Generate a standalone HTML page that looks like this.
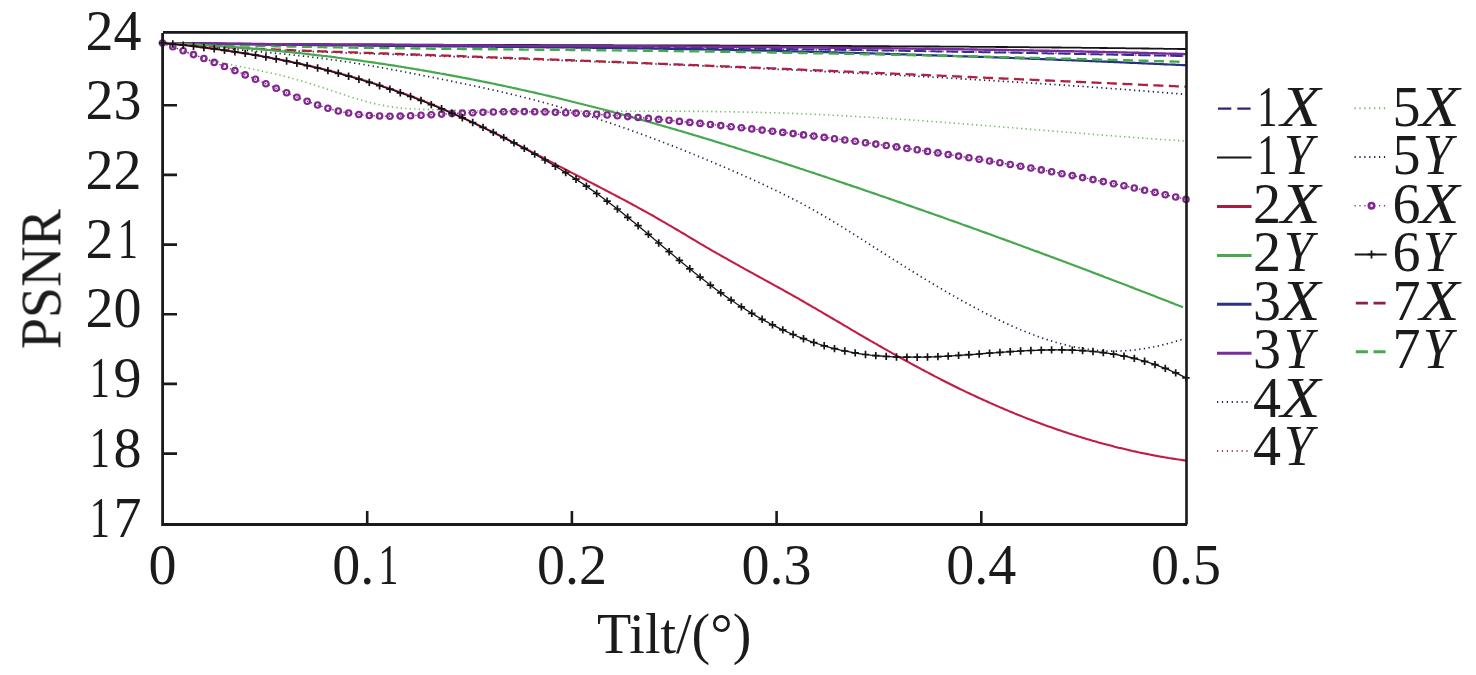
<!DOCTYPE html>
<html><head><meta charset="utf-8"><style>
html,body{margin:0;padding:0;background:#fff;}
svg{display:block;}
text{font-family:"Liberation Serif",serif;font-size:56px;fill:#1a1a1a;}
</style></head><body>
<svg width="1476" height="675" viewBox="0 0 1476 675">
<rect width="1476" height="675" fill="#fff"/>
<g fill="none" stroke-linecap="butt" stroke-linejoin="round">
<path d="M162.5,43.0 L164.5,43.9 L166.5,44.8 L168.5,45.7 L170.5,46.6 L172.5,47.4 L174.5,48.3 L176.5,49.1 L178.5,49.8 L180.5,50.6 L182.5,51.3 L184.5,52.0 L186.5,52.7 L188.5,53.4 L190.5,54.1 L192.5,54.7 L194.5,55.4 L196.5,56.0 L198.5,56.6 L200.5,57.1 L202.5,57.7 L204.5,58.3 L206.5,58.8 L208.5,59.3 L210.5,59.9 L212.5,60.4 L214.5,60.9 L216.5,61.3 L218.5,61.8 L220.5,62.3 L222.5,62.8 L224.5,63.2 L226.5,63.7 L228.5,64.1 L230.5,64.5 L232.5,65.0 L234.5,65.4 L236.5,65.8 L238.5,66.2 L240.5,66.6 L242.5,67.1 L244.5,67.5 L246.5,67.9 L248.5,68.3 L250.5,68.7 L252.5,69.1 L254.5,69.5 L256.5,69.9 L258.5,70.4 L260.5,70.8 L262.5,71.2 L264.5,71.6 L266.5,72.1 L268.5,72.5 L270.5,73.0 L272.5,73.4 L274.5,73.9 L276.5,74.3 L278.5,74.8 L280.5,75.3 L282.5,75.8 L284.5,76.3 L286.5,76.8 L288.5,77.4 L290.5,77.9 L292.5,78.5 L294.5,79.0 L296.5,79.6 L298.5,80.2 L300.5,80.7 L302.5,81.3 L304.5,81.9 L306.5,82.5 L308.5,83.2 L310.5,83.8 L312.5,84.4 L314.5,85.0 L316.5,85.7 L318.5,86.3 L320.5,87.0 L322.5,87.6 L324.5,88.3 L326.5,88.9 L328.5,89.6 L330.5,90.2 L332.5,90.9 L334.5,91.5 L336.5,92.2 L338.5,92.9 L340.5,93.5 L342.5,94.2 L344.5,94.9 L346.5,95.5 L348.5,96.2 L350.5,96.8 L352.5,97.5 L354.5,98.1 L356.5,98.7 L358.5,99.3 L360.5,99.9 L362.5,100.5 L364.5,101.1 L366.5,101.6 L368.5,102.2 L370.5,102.7 L372.5,103.2 L374.5,103.6 L376.5,104.1 L378.5,104.5 L380.5,104.9 L382.5,105.3 L384.5,105.7 L386.5,106.1 L388.5,106.4 L390.5,106.7 L392.5,107.0 L394.5,107.3 L396.5,107.5 L398.5,107.8 L400.5,108.0 L402.5,108.2 L404.5,108.4 L406.5,108.5 L408.5,108.7 L410.5,108.8 L412.5,108.9 L414.5,109.0 L416.5,109.1 L418.5,109.2 L420.5,109.3 L422.5,109.4 L424.5,109.4 L426.5,109.5 L428.5,109.6 L430.5,109.6 L432.5,109.7 L434.5,109.7 L436.5,109.8 L438.5,109.8 L440.5,109.9 L442.5,110.0 L444.5,110.0 L446.5,110.1 L448.5,110.1 L450.5,110.2 L452.5,110.2 L454.5,110.2 L456.5,110.3 L458.5,110.3 L460.5,110.4 L462.5,110.4 L464.5,110.4 L466.5,110.5 L468.5,110.5 L470.5,110.6 L472.5,110.6 L474.5,110.6 L476.5,110.7 L478.5,110.7 L480.5,110.7 L482.5,110.7 L484.5,110.8 L486.5,110.8 L488.5,110.8 L490.5,110.8 L492.5,110.9 L494.5,110.9 L496.5,110.9 L498.5,110.9 L500.5,111.0 L502.5,111.0 L504.5,111.0 L506.5,111.0 L508.5,111.0 L510.5,111.0 L512.5,111.1 L514.5,111.1 L516.5,111.1 L518.5,111.1 L520.5,111.1 L522.5,111.1 L524.5,111.1 L526.5,111.1 L528.5,111.2 L530.5,111.2 L532.5,111.2 L534.5,111.2 L536.5,111.2 L538.5,111.2 L540.5,111.2 L542.5,111.2 L544.5,111.2 L546.5,111.2 L548.5,111.2 L550.5,111.2 L552.5,111.2 L554.5,111.2 L556.5,111.2 L558.5,111.2 L560.5,111.2 L562.5,111.2 L564.5,111.2 L566.5,111.2 L568.5,111.2 L570.5,111.2 L572.5,111.2 L574.5,111.2 L576.5,111.2 L578.5,111.2 L580.5,111.2 L582.5,111.2 L584.5,111.2 L586.5,111.2 L588.5,111.2 L590.5,111.2 L592.5,111.2 L594.5,111.2 L596.5,111.2 L598.5,111.2 L600.5,111.2 L602.5,111.2 L604.5,111.2 L606.5,111.2 L608.5,111.2 L610.5,111.2 L612.5,111.2 L614.5,111.2 L616.5,111.2 L618.5,111.2 L620.5,111.2 L622.5,111.2 L624.5,111.2 L626.5,111.2 L628.5,111.2 L630.5,111.2 L632.5,111.2 L634.5,111.2 L636.5,111.2 L638.5,111.2 L640.5,111.2 L642.5,111.2 L644.5,111.2 L646.5,111.2 L648.5,111.2 L650.5,111.2 L652.5,111.2 L654.5,111.2 L656.5,111.2 L658.5,111.2 L660.5,111.2 L662.5,111.2 L664.5,111.2 L666.5,111.2 L668.5,111.2 L670.5,111.3 L672.5,111.3 L674.5,111.3 L676.5,111.3 L678.5,111.3 L680.5,111.3 L682.5,111.3 L684.5,111.3 L686.5,111.3 L688.5,111.3 L690.5,111.4 L692.5,111.4 L694.5,111.4 L696.5,111.4 L698.5,111.4 L700.5,111.4 L702.5,111.5 L704.5,111.5 L706.5,111.5 L708.5,111.5 L710.5,111.5 L712.5,111.6 L714.5,111.6 L716.5,111.6 L718.5,111.6 L720.5,111.7 L722.5,111.7 L724.5,111.7 L726.5,111.8 L728.5,111.8 L730.5,111.8 L732.5,111.8 L734.5,111.9 L736.5,111.9 L738.5,112.0 L740.5,112.0 L742.5,112.0 L744.5,112.1 L746.5,112.1 L748.5,112.2 L750.5,112.2 L752.5,112.2 L754.5,112.3 L756.5,112.3 L758.5,112.4 L760.5,112.4 L762.5,112.5 L764.5,112.5 L766.5,112.6 L768.5,112.7 L770.5,112.7 L772.5,112.8 L774.5,112.8 L776.5,112.9 L778.5,113.0 L780.5,113.0 L782.5,113.1 L784.5,113.1 L786.5,113.2 L788.5,113.3 L790.5,113.4 L792.5,113.4 L794.5,113.5 L796.5,113.6 L798.5,113.7 L800.5,113.7 L802.5,113.8 L804.5,113.9 L806.5,114.0 L808.5,114.1 L810.5,114.2 L812.5,114.2 L814.5,114.3 L816.5,114.4 L818.5,114.5 L820.5,114.6 L822.5,114.7 L824.5,114.8 L826.5,114.9 L828.5,115.0 L830.5,115.1 L832.5,115.2 L834.5,115.3 L836.5,115.4 L838.5,115.5 L840.5,115.6 L842.5,115.7 L844.5,115.8 L846.5,115.9 L848.5,116.0 L850.5,116.1 L852.5,116.3 L854.5,116.4 L856.5,116.5 L858.5,116.6 L860.5,116.7 L862.5,116.8 L864.5,117.0 L866.5,117.1 L868.5,117.2 L870.5,117.3 L872.5,117.4 L874.5,117.6 L876.5,117.7 L878.5,117.8 L880.5,117.9 L882.5,118.1 L884.5,118.2 L886.5,118.3 L888.5,118.5 L890.5,118.6 L892.5,118.7 L894.5,118.9 L896.5,119.0 L898.5,119.1 L900.5,119.3 L902.5,119.4 L904.5,119.5 L906.5,119.7 L908.5,119.8 L910.5,119.9 L912.5,120.1 L914.5,120.2 L916.5,120.4 L918.5,120.5 L920.5,120.7 L922.5,120.8 L924.5,120.9 L926.5,121.1 L928.5,121.2 L930.5,121.4 L932.5,121.5 L934.5,121.7 L936.5,121.8 L938.5,122.0 L940.5,122.1 L942.5,122.3 L944.5,122.4 L946.5,122.6 L948.5,122.7 L950.5,122.9 L952.5,123.0 L954.5,123.2 L956.5,123.3 L958.5,123.5 L960.5,123.6 L962.5,123.8 L964.5,124.0 L966.5,124.1 L968.5,124.3 L970.5,124.4 L972.5,124.6 L974.5,124.7 L976.5,124.9 L978.5,125.1 L980.5,125.2 L982.5,125.4 L984.5,125.5 L986.5,125.7 L988.5,125.9 L990.5,126.0 L992.5,126.2 L994.5,126.3 L996.5,126.5 L998.5,126.7 L1000.5,126.8 L1002.5,127.0 L1004.5,127.1 L1006.5,127.3 L1008.5,127.5 L1010.5,127.6 L1012.5,127.8 L1014.5,128.0 L1016.5,128.1 L1018.5,128.3 L1020.5,128.4 L1022.5,128.6 L1024.5,128.8 L1026.5,128.9 L1028.5,129.1 L1030.5,129.3 L1032.5,129.4 L1034.5,129.6 L1036.5,129.8 L1038.5,129.9 L1040.5,130.1 L1042.5,130.2 L1044.5,130.4 L1046.5,130.6 L1048.5,130.7 L1050.5,130.9 L1052.5,131.1 L1054.5,131.2 L1056.5,131.4 L1058.5,131.5 L1060.5,131.7 L1062.5,131.9 L1064.5,132.0 L1066.5,132.2 L1068.5,132.4 L1070.5,132.5 L1072.5,132.7 L1074.5,132.8 L1076.5,133.0 L1078.5,133.2 L1080.5,133.3 L1082.5,133.5 L1084.5,133.6 L1086.5,133.8 L1088.5,134.0 L1090.5,134.1 L1092.5,134.3 L1094.5,134.4 L1096.5,134.6 L1098.5,134.8 L1100.5,134.9 L1102.5,135.1 L1104.5,135.2 L1106.5,135.4 L1108.5,135.5 L1110.5,135.7 L1112.5,135.8 L1114.5,136.0 L1116.5,136.2 L1118.5,136.3 L1120.5,136.5 L1122.5,136.6 L1124.5,136.8 L1126.5,136.9 L1128.5,137.1 L1130.5,137.2 L1132.5,137.4 L1134.5,137.5 L1136.5,137.7 L1138.5,137.8 L1140.5,138.0 L1142.5,138.1 L1144.5,138.2 L1146.5,138.4 L1148.5,138.5 L1150.5,138.7 L1152.5,138.8 L1154.5,139.0 L1156.5,139.1 L1158.5,139.2 L1160.5,139.4 L1162.5,139.5 L1164.5,139.7 L1166.5,139.8 L1168.5,139.9 L1170.5,140.1 L1172.5,140.2 L1174.5,140.3 L1176.5,140.5 L1178.5,140.6 L1180.5,140.7 L1182.5,140.9 L1184.5,141.0 L1186.0,141.1" stroke="#6cbc5c" stroke-width="1.6" stroke-dasharray="1.3 3.2"/>
<path d="M162.5,43.0 L164.5,43.2 L166.5,43.4 L168.5,43.6 L170.5,43.8 L172.5,44.0 L174.5,44.2 L176.5,44.4 L178.5,44.6 L180.5,44.8 L182.5,45.0 L184.5,45.1 L186.5,45.3 L188.5,45.5 L190.5,45.7 L192.5,45.9 L194.5,46.0 L196.5,46.2 L198.5,46.4 L200.5,46.6 L202.5,46.7 L204.5,46.9 L206.5,47.1 L208.5,47.3 L210.5,47.4 L212.5,47.6 L214.5,47.8 L216.5,47.9 L218.5,48.1 L220.5,48.3 L222.5,48.5 L224.5,48.6 L226.5,48.8 L228.5,49.0 L230.5,49.1 L232.5,49.3 L234.5,49.5 L236.5,49.7 L238.5,49.8 L240.5,50.0 L242.5,50.2 L244.5,50.3 L246.5,50.5 L248.5,50.7 L250.5,50.9 L252.5,51.0 L254.5,51.2 L256.5,51.4 L258.5,51.6 L260.5,51.8 L262.5,51.9 L264.5,52.1 L266.5,52.3 L268.5,52.5 L270.5,52.7 L272.5,52.9 L274.5,53.1 L276.5,53.3 L278.5,53.5 L280.5,53.7 L282.5,53.9 L284.5,54.1 L286.5,54.3 L288.5,54.5 L290.5,54.7 L292.5,54.9 L294.5,55.1 L296.5,55.3 L298.5,55.6 L300.5,55.8 L302.5,56.0 L304.5,56.2 L306.5,56.5 L308.5,56.7 L310.5,56.9 L312.5,57.2 L314.5,57.4 L316.5,57.7 L318.5,57.9 L320.5,58.2 L322.5,58.4 L324.5,58.7 L326.5,59.0 L328.5,59.2 L330.5,59.5 L332.5,59.8 L334.5,60.1 L336.5,60.3 L338.5,60.6 L340.5,60.9 L342.5,61.2 L344.5,61.5 L346.5,61.8 L348.5,62.1 L350.5,62.4 L352.5,62.8 L354.5,63.1 L356.5,63.4 L358.5,63.7 L360.5,64.0 L362.5,64.4 L364.5,64.7 L366.5,65.0 L368.5,65.4 L370.5,65.7 L372.5,66.1 L374.5,66.4 L376.5,66.8 L378.5,67.1 L380.5,67.5 L382.5,67.8 L384.5,68.2 L386.5,68.5 L388.5,68.9 L390.5,69.3 L392.5,69.6 L394.5,70.0 L396.5,70.4 L398.5,70.8 L400.5,71.1 L402.5,71.5 L404.5,71.9 L406.5,72.3 L408.5,72.7 L410.5,73.1 L412.5,73.4 L414.5,73.8 L416.5,74.2 L418.5,74.6 L420.5,75.0 L422.5,75.4 L424.5,75.8 L426.5,76.2 L428.5,76.6 L430.5,77.0 L432.5,77.4 L434.5,77.8 L436.5,78.2 L438.5,78.6 L440.5,79.0 L442.5,79.4 L444.5,79.8 L446.5,80.2 L448.5,80.6 L450.5,81.0 L452.5,81.4 L454.5,81.9 L456.5,82.3 L458.5,82.7 L460.5,83.1 L462.5,83.5 L464.5,83.9 L466.5,84.3 L468.5,84.7 L470.5,85.2 L472.5,85.6 L474.5,86.0 L476.5,86.4 L478.5,86.9 L480.5,87.3 L482.5,87.7 L484.5,88.1 L486.5,88.6 L488.5,89.0 L490.5,89.5 L492.5,89.9 L494.5,90.4 L496.5,90.8 L498.5,91.3 L500.5,91.7 L502.5,92.2 L504.5,92.6 L506.5,93.1 L508.5,93.6 L510.5,94.0 L512.5,94.5 L514.5,95.0 L516.5,95.5 L518.5,96.0 L520.5,96.5 L522.5,97.0 L524.5,97.5 L526.5,98.0 L528.5,98.5 L530.5,99.0 L532.5,99.5 L534.5,100.0 L536.5,100.6 L538.5,101.1 L540.5,101.6 L542.5,102.2 L544.5,102.7 L546.5,103.3 L548.5,103.8 L550.5,104.4 L552.5,105.0 L554.5,105.5 L556.5,106.1 L558.5,106.7 L560.5,107.3 L562.5,107.8 L564.5,108.4 L566.5,109.0 L568.5,109.6 L570.5,110.2 L572.5,110.8 L574.5,111.5 L576.5,112.1 L578.5,112.7 L580.5,113.3 L582.5,113.9 L584.5,114.6 L586.5,115.2 L588.5,115.9 L590.5,116.5 L592.5,117.1 L594.5,117.8 L596.5,118.4 L598.5,119.1 L600.5,119.8 L602.5,120.4 L604.5,121.1 L606.5,121.8 L608.5,122.5 L610.5,123.1 L612.5,123.8 L614.5,124.5 L616.5,125.2 L618.5,125.9 L620.5,126.6 L622.5,127.3 L624.5,128.0 L626.5,128.7 L628.5,129.4 L630.5,130.1 L632.5,130.9 L634.5,131.6 L636.5,132.3 L638.5,133.0 L640.5,133.8 L642.5,134.5 L644.5,135.2 L646.5,136.0 L648.5,136.7 L650.5,137.5 L652.5,138.2 L654.5,139.0 L656.5,139.8 L658.5,140.5 L660.5,141.3 L662.5,142.0 L664.5,142.8 L666.5,143.6 L668.5,144.4 L670.5,145.2 L672.5,145.9 L674.5,146.7 L676.5,147.5 L678.5,148.3 L680.5,149.1 L682.5,149.9 L684.5,150.7 L686.5,151.5 L688.5,152.3 L690.5,153.1 L692.5,153.9 L694.5,154.7 L696.5,155.6 L698.5,156.4 L700.5,157.2 L702.5,158.0 L704.5,158.9 L706.5,159.7 L708.5,160.5 L710.5,161.4 L712.5,162.2 L714.5,163.0 L716.5,163.9 L718.5,164.7 L720.5,165.6 L722.5,166.4 L724.5,167.3 L726.5,168.1 L728.5,169.0 L730.5,169.9 L732.5,170.7 L734.5,171.6 L736.5,172.5 L738.5,173.3 L740.5,174.2 L742.5,175.1 L744.5,176.0 L746.5,176.9 L748.5,177.7 L750.5,178.6 L752.5,179.5 L754.5,180.4 L756.5,181.3 L758.5,182.3 L760.5,183.2 L762.5,184.1 L764.5,185.0 L766.5,186.0 L768.5,186.9 L770.5,187.9 L772.5,188.8 L774.5,189.8 L776.5,190.7 L778.5,191.7 L780.5,192.7 L782.5,193.7 L784.5,194.7 L786.5,195.7 L788.5,196.7 L790.5,197.7 L792.5,198.7 L794.5,199.8 L796.5,200.8 L798.5,201.9 L800.5,202.9 L802.5,204.0 L804.5,205.1 L806.5,206.2 L808.5,207.3 L810.5,208.4 L812.5,209.5 L814.5,210.6 L816.5,211.7 L818.5,212.9 L820.5,214.0 L822.5,215.2 L824.5,216.3 L826.5,217.5 L828.5,218.7 L830.5,219.9 L832.5,221.1 L834.5,222.3 L836.5,223.5 L838.5,224.7 L840.5,225.9 L842.5,227.2 L844.5,228.4 L846.5,229.7 L848.5,230.9 L850.5,232.2 L852.5,233.4 L854.5,234.7 L856.5,236.0 L858.5,237.2 L860.5,238.5 L862.5,239.8 L864.5,241.1 L866.5,242.3 L868.5,243.6 L870.5,244.9 L872.5,246.2 L874.5,247.5 L876.5,248.7 L878.5,250.0 L880.5,251.3 L882.5,252.6 L884.5,253.8 L886.5,255.1 L888.5,256.4 L890.5,257.7 L892.5,258.9 L894.5,260.2 L896.5,261.4 L898.5,262.7 L900.5,264.0 L902.5,265.2 L904.5,266.5 L906.5,267.7 L908.5,269.0 L910.5,270.2 L912.5,271.4 L914.5,272.7 L916.5,273.9 L918.5,275.1 L920.5,276.4 L922.5,277.6 L924.5,278.8 L926.5,280.0 L928.5,281.2 L930.5,282.4 L932.5,283.6 L934.5,284.8 L936.5,286.0 L938.5,287.2 L940.5,288.4 L942.5,289.5 L944.5,290.7 L946.5,291.9 L948.5,293.0 L950.5,294.2 L952.5,295.3 L954.5,296.5 L956.5,297.6 L958.5,298.7 L960.5,299.8 L962.5,301.0 L964.5,302.1 L966.5,303.2 L968.5,304.3 L970.5,305.3 L972.5,306.4 L974.5,307.5 L976.5,308.6 L978.5,309.6 L980.5,310.7 L982.5,311.7 L984.5,312.8 L986.5,313.8 L988.5,314.8 L990.5,315.8 L992.5,316.8 L994.5,317.8 L996.5,318.8 L998.5,319.7 L1000.5,320.7 L1002.5,321.6 L1004.5,322.6 L1006.5,323.5 L1008.5,324.4 L1010.5,325.3 L1012.5,326.2 L1014.5,327.1 L1016.5,328.0 L1018.5,328.8 L1020.5,329.7 L1022.5,330.5 L1024.5,331.3 L1026.5,332.1 L1028.5,332.9 L1030.5,333.7 L1032.5,334.5 L1034.5,335.2 L1036.5,336.0 L1038.5,336.7 L1040.5,337.4 L1042.5,338.1 L1044.5,338.8 L1046.5,339.4 L1048.5,340.1 L1050.5,340.7 L1052.5,341.3 L1054.5,341.9 L1056.5,342.5 L1058.5,343.0 L1060.5,343.6 L1062.5,344.1 L1064.5,344.6 L1066.5,345.1 L1068.5,345.6 L1070.5,346.1 L1072.5,346.5 L1074.5,346.9 L1076.5,347.3 L1078.5,347.7 L1080.5,348.1 L1082.5,348.4 L1084.5,348.8 L1086.5,349.1 L1088.5,349.4 L1090.5,349.6 L1092.5,349.9 L1094.5,350.1 L1096.5,350.3 L1098.5,350.5 L1100.5,350.6 L1102.5,350.8 L1104.5,350.9 L1106.5,351.0 L1108.5,351.1 L1110.5,351.1 L1112.5,351.2 L1114.5,351.2 L1116.5,351.1 L1118.5,351.1 L1120.5,351.0 L1122.5,350.9 L1124.5,350.8 L1126.5,350.7 L1128.5,350.6 L1130.5,350.4 L1132.5,350.2 L1134.5,350.0 L1136.5,349.7 L1138.5,349.5 L1140.5,349.2 L1142.5,348.9 L1144.5,348.6 L1146.5,348.3 L1148.5,347.9 L1150.5,347.5 L1152.5,347.1 L1154.5,346.7 L1156.5,346.3 L1158.5,345.9 L1160.5,345.4 L1162.5,344.9 L1164.5,344.4 L1166.5,343.9 L1168.5,343.4 L1170.5,342.8 L1172.5,342.3 L1174.5,341.7 L1176.5,341.1 L1178.5,340.5 L1180.5,339.9 L1182.5,339.3 L1183.0,339.1" stroke="#22224e" stroke-width="1.7" stroke-dasharray="1.3 3.4"/>
<path d="M162.5,43.0 L164.5,43.0 L166.5,43.1 L168.5,43.1 L170.5,43.1 L172.5,43.2 L174.5,43.2 L176.5,43.2 L178.5,43.3 L180.5,43.3 L182.5,43.3 L184.5,43.4 L186.5,43.4 L188.5,43.4 L190.5,43.5 L192.5,43.5 L194.5,43.5 L196.5,43.6 L198.5,43.6 L200.5,43.6 L202.5,43.7 L204.5,43.7 L206.5,43.7 L208.5,43.7 L210.5,43.8 L212.5,43.8 L214.5,43.8 L216.5,43.9 L218.5,43.9 L220.5,43.9 L222.5,44.0 L224.5,44.0 L226.5,44.0 L228.5,44.0 L230.5,44.1 L232.5,44.1 L234.5,44.1 L236.5,44.2 L238.5,44.2 L240.5,44.2 L242.5,44.2 L244.5,44.3 L246.5,44.3 L248.5,44.3 L250.5,44.4 L252.5,44.4 L254.5,44.4 L256.5,44.4 L258.5,44.5 L260.5,44.5 L262.5,44.5 L264.5,44.6 L266.5,44.6 L268.5,44.6 L270.5,44.6 L272.5,44.7 L274.5,44.7 L276.5,44.7 L278.5,44.7 L280.5,44.8 L282.5,44.8 L284.5,44.8 L286.5,44.8 L288.5,44.9 L290.5,44.9 L292.5,44.9 L294.5,44.9 L296.5,45.0 L298.5,45.0 L300.5,45.0 L302.5,45.0 L304.5,45.1 L306.5,45.1 L308.5,45.1 L310.5,45.1 L312.5,45.2 L314.5,45.2 L316.5,45.2 L318.5,45.2 L320.5,45.3 L322.5,45.3 L324.5,45.3 L326.5,45.3 L328.5,45.3 L330.5,45.4 L332.5,45.4 L334.5,45.4 L336.5,45.4 L338.5,45.5 L340.5,45.5 L342.5,45.5 L344.5,45.5 L346.5,45.5 L348.5,45.6 L350.5,45.6 L352.5,45.6 L354.5,45.6 L356.5,45.7 L358.5,45.7 L360.5,45.7 L362.5,45.7 L364.5,45.7 L366.5,45.8 L368.5,45.8 L370.5,45.8 L372.5,45.8 L374.5,45.9 L376.5,45.9 L378.5,45.9 L380.5,45.9 L382.5,45.9 L384.5,46.0 L386.5,46.0 L388.5,46.0 L390.5,46.0 L392.5,46.0 L394.5,46.1 L396.5,46.1 L398.5,46.1 L400.5,46.1 L402.5,46.1 L404.5,46.2 L406.5,46.2 L408.5,46.2 L410.5,46.2 L412.5,46.2 L414.5,46.3 L416.5,46.3 L418.5,46.3 L420.5,46.3 L422.5,46.3 L424.5,46.3 L426.5,46.4 L428.5,46.4 L430.5,46.4 L432.5,46.4 L434.5,46.4 L436.5,46.5 L438.5,46.5 L440.5,46.5 L442.5,46.5 L444.5,46.5 L446.5,46.6 L448.5,46.6 L450.5,46.6 L452.5,46.6 L454.5,46.6 L456.5,46.6 L458.5,46.7 L460.5,46.7 L462.5,46.7 L464.5,46.7 L466.5,46.7 L468.5,46.8 L470.5,46.8 L472.5,46.8 L474.5,46.8 L476.5,46.8 L478.5,46.8 L480.5,46.9 L482.5,46.9 L484.5,46.9 L486.5,46.9 L488.5,46.9 L490.5,46.9 L492.5,47.0 L494.5,47.0 L496.5,47.0 L498.5,47.0 L500.5,47.0 L502.5,47.0 L504.5,47.1 L506.5,47.1 L508.5,47.1 L510.5,47.1 L512.5,47.1 L514.5,47.2 L516.5,47.2 L518.5,47.2 L520.5,47.2 L522.5,47.2 L524.5,47.2 L526.5,47.3 L528.5,47.3 L530.5,47.3 L532.5,47.3 L534.5,47.3 L536.5,47.3 L538.5,47.4 L540.5,47.4 L542.5,47.4 L544.5,47.4 L546.5,47.4 L548.5,47.4 L550.5,47.5 L552.5,47.5 L554.5,47.5 L556.5,47.5 L558.5,47.5 L560.5,47.5 L562.5,47.6 L564.5,47.6 L566.5,47.6 L568.5,47.6 L570.5,47.6 L572.5,47.6 L574.5,47.6 L576.5,47.7 L578.5,47.7 L580.5,47.7 L582.5,47.7 L584.5,47.7 L586.5,47.7 L588.5,47.8 L590.5,47.8 L592.5,47.8 L594.5,47.8 L596.5,47.8 L598.5,47.8 L600.5,47.9 L602.5,47.9 L604.5,47.9 L606.5,47.9 L608.5,47.9 L610.5,47.9 L612.5,48.0 L614.5,48.0 L616.5,48.0 L618.5,48.0 L620.5,48.0 L622.5,48.0 L624.5,48.1 L626.5,48.1 L628.5,48.1 L630.5,48.1 L632.5,48.1 L634.5,48.1 L636.5,48.2 L638.5,48.2 L640.5,48.2 L642.5,48.2 L644.5,48.2 L646.5,48.2 L648.5,48.3 L650.5,48.3 L652.5,48.3 L654.5,48.3 L656.5,48.3 L658.5,48.3 L660.5,48.4 L662.5,48.4 L664.5,48.4 L666.5,48.4 L668.5,48.4 L670.5,48.4 L672.5,48.5 L674.5,48.5 L676.5,48.5 L678.5,48.5 L680.5,48.5 L682.5,48.5 L684.5,48.6 L686.5,48.6 L688.5,48.6 L690.5,48.6 L692.5,48.6 L694.5,48.7 L696.5,48.7 L698.5,48.7 L700.5,48.7 L702.5,48.7 L704.5,48.7 L706.5,48.8 L708.5,48.8 L710.5,48.8 L712.5,48.8 L714.5,48.8 L716.5,48.8 L718.5,48.9 L720.5,48.9 L722.5,48.9 L724.5,48.9 L726.5,48.9 L728.5,49.0 L730.5,49.0 L732.5,49.0 L734.5,49.0 L736.5,49.0 L738.5,49.1 L740.5,49.1 L742.5,49.1 L744.5,49.1 L746.5,49.1 L748.5,49.1 L750.5,49.2 L752.5,49.2 L754.5,49.2 L756.5,49.2 L758.5,49.2 L760.5,49.3 L762.5,49.3 L764.5,49.3 L766.5,49.3 L768.5,49.3 L770.5,49.4 L772.5,49.4 L774.5,49.4 L776.5,49.4 L778.5,49.4 L780.5,49.5 L782.5,49.5 L784.5,49.5 L786.5,49.5 L788.5,49.5 L790.5,49.6 L792.5,49.6 L794.5,49.6 L796.5,49.6 L798.5,49.6 L800.5,49.7 L802.5,49.7 L804.5,49.7 L806.5,49.7 L808.5,49.7 L810.5,49.8 L812.5,49.8 L814.5,49.8 L816.5,49.8 L818.5,49.9 L820.5,49.9 L822.5,49.9 L824.5,49.9 L826.5,49.9 L828.5,50.0 L830.5,50.0 L832.5,50.0 L834.5,50.0 L836.5,50.1 L838.5,50.1 L840.5,50.1 L842.5,50.1 L844.5,50.1 L846.5,50.2 L848.5,50.2 L850.5,50.2 L852.5,50.2 L854.5,50.3 L856.5,50.3 L858.5,50.3 L860.5,50.3 L862.5,50.4 L864.5,50.4 L866.5,50.4 L868.5,50.4 L870.5,50.5 L872.5,50.5 L874.5,50.5 L876.5,50.5 L878.5,50.6 L880.5,50.6 L882.5,50.6 L884.5,50.6 L886.5,50.7 L888.5,50.7 L890.5,50.7 L892.5,50.7 L894.5,50.8 L896.5,50.8 L898.5,50.8 L900.5,50.8 L902.5,50.9 L904.5,50.9 L906.5,50.9 L908.5,50.9 L910.5,51.0 L912.5,51.0 L914.5,51.0 L916.5,51.0 L918.5,51.1 L920.5,51.1 L922.5,51.1 L924.5,51.2 L926.5,51.2 L928.5,51.2 L930.5,51.2 L932.5,51.3 L934.5,51.3 L936.5,51.3 L938.5,51.4 L940.5,51.4 L942.5,51.4 L944.5,51.4 L946.5,51.5 L948.5,51.5 L950.5,51.5 L952.5,51.6 L954.5,51.6 L956.5,51.6 L958.5,51.6 L960.5,51.7 L962.5,51.7 L964.5,51.7 L966.5,51.8 L968.5,51.8 L970.5,51.8 L972.5,51.9 L974.5,51.9 L976.5,51.9 L978.5,52.0 L980.5,52.0 L982.5,52.0 L984.5,52.0 L986.5,52.1 L988.5,52.1 L990.5,52.1 L992.5,52.2 L994.5,52.2 L996.5,52.2 L998.5,52.3 L1000.5,52.3 L1002.5,52.3 L1004.5,52.4 L1006.5,52.4 L1008.5,52.4 L1010.5,52.5 L1012.5,52.5 L1014.5,52.5 L1016.5,52.6 L1018.5,52.6 L1020.5,52.7 L1022.5,52.7 L1024.5,52.7 L1026.5,52.8 L1028.5,52.8 L1030.5,52.8 L1032.5,52.9 L1034.5,52.9 L1036.5,52.9 L1038.5,53.0 L1040.5,53.0 L1042.5,53.1 L1044.5,53.1 L1046.5,53.1 L1048.5,53.2 L1050.5,53.2 L1052.5,53.2 L1054.5,53.3 L1056.5,53.3 L1058.5,53.4 L1060.5,53.4 L1062.5,53.4 L1064.5,53.5 L1066.5,53.5 L1068.5,53.5 L1070.5,53.6 L1072.5,53.6 L1074.5,53.7 L1076.5,53.7 L1078.5,53.7 L1080.5,53.8 L1082.5,53.8 L1084.5,53.9 L1086.5,53.9 L1088.5,54.0 L1090.5,54.0 L1092.5,54.0 L1094.5,54.1 L1096.5,54.1 L1098.5,54.2 L1100.5,54.2 L1102.5,54.2 L1104.5,54.3 L1106.5,54.3 L1108.5,54.4 L1110.5,54.4 L1112.5,54.5 L1114.5,54.5 L1116.5,54.6 L1118.5,54.6 L1120.5,54.6 L1122.5,54.7 L1124.5,54.7 L1126.5,54.8 L1128.5,54.8 L1130.5,54.9 L1132.5,54.9 L1134.5,55.0 L1136.5,55.0 L1138.5,55.1 L1140.5,55.1 L1142.5,55.1 L1144.5,55.2 L1146.5,55.2 L1148.5,55.3 L1150.5,55.3 L1152.5,55.4 L1154.5,55.4 L1156.5,55.5 L1158.5,55.5 L1160.5,55.6 L1162.5,55.6 L1164.5,55.7 L1166.5,55.7 L1168.5,55.8 L1170.5,55.8 L1172.5,55.9 L1174.5,55.9 L1176.5,56.0 L1178.5,56.0 L1180.5,56.1 L1182.5,56.1 L1184.5,56.2 L1186.0,56.2" stroke="#a04070" stroke-width="1.5" stroke-dasharray="1.3 3.4"/>
<path d="M162.5,43.0 L164.5,43.2 L166.5,43.3 L168.5,43.5 L170.5,43.6 L172.5,43.8 L174.5,44.0 L176.5,44.1 L178.5,44.3 L180.5,44.4 L182.5,44.6 L184.5,44.7 L186.5,44.9 L188.5,45.0 L190.5,45.1 L192.5,45.3 L194.5,45.4 L196.5,45.6 L198.5,45.7 L200.5,45.8 L202.5,46.0 L204.5,46.1 L206.5,46.2 L208.5,46.4 L210.5,46.5 L212.5,46.6 L214.5,46.7 L216.5,46.9 L218.5,47.0 L220.5,47.1 L222.5,47.2 L224.5,47.3 L226.5,47.5 L228.5,47.6 L230.5,47.7 L232.5,47.8 L234.5,47.9 L236.5,48.0 L238.5,48.1 L240.5,48.2 L242.5,48.4 L244.5,48.5 L246.5,48.6 L248.5,48.7 L250.5,48.8 L252.5,48.9 L254.5,49.0 L256.5,49.1 L258.5,49.2 L260.5,49.3 L262.5,49.4 L264.5,49.5 L266.5,49.6 L268.5,49.7 L270.5,49.8 L272.5,49.8 L274.5,49.9 L276.5,50.0 L278.5,50.1 L280.5,50.2 L282.5,50.3 L284.5,50.4 L286.5,50.5 L288.5,50.6 L290.5,50.6 L292.5,50.7 L294.5,50.8 L296.5,50.9 L298.5,51.0 L300.5,51.1 L302.5,51.1 L304.5,51.2 L306.5,51.3 L308.5,51.4 L310.5,51.5 L312.5,51.5 L314.5,51.6 L316.5,51.7 L318.5,51.8 L320.5,51.8 L322.5,51.9 L324.5,52.0 L326.5,52.1 L328.5,52.1 L330.5,52.2 L332.5,52.3 L334.5,52.4 L336.5,52.4 L338.5,52.5 L340.5,52.6 L342.5,52.7 L344.5,52.7 L346.5,52.8 L348.5,52.9 L350.5,53.0 L352.5,53.0 L354.5,53.1 L356.5,53.2 L358.5,53.2 L360.5,53.3 L362.5,53.4 L364.5,53.5 L366.5,53.5 L368.5,53.6 L370.5,53.7 L372.5,53.7 L374.5,53.8 L376.5,53.9 L378.5,54.0 L380.5,54.0 L382.5,54.1 L384.5,54.2 L386.5,54.2 L388.5,54.3 L390.5,54.4 L392.5,54.4 L394.5,54.5 L396.5,54.6 L398.5,54.7 L400.5,54.7 L402.5,54.8 L404.5,54.9 L406.5,54.9 L408.5,55.0 L410.5,55.1 L412.5,55.1 L414.5,55.2 L416.5,55.3 L418.5,55.4 L420.5,55.4 L422.5,55.5 L424.5,55.6 L426.5,55.6 L428.5,55.7 L430.5,55.8 L432.5,55.8 L434.5,55.9 L436.5,56.0 L438.5,56.0 L440.5,56.1 L442.5,56.2 L444.5,56.3 L446.5,56.3 L448.5,56.4 L450.5,56.5 L452.5,56.5 L454.5,56.6 L456.5,56.7 L458.5,56.7 L460.5,56.8 L462.5,56.9 L464.5,56.9 L466.5,57.0 L468.5,57.1 L470.5,57.2 L472.5,57.2 L474.5,57.3 L476.5,57.4 L478.5,57.4 L480.5,57.5 L482.5,57.6 L484.5,57.6 L486.5,57.7 L488.5,57.8 L490.5,57.9 L492.5,57.9 L494.5,58.0 L496.5,58.1 L498.5,58.1 L500.5,58.2 L502.5,58.3 L504.5,58.3 L506.5,58.4 L508.5,58.5 L510.5,58.6 L512.5,58.6 L514.5,58.7 L516.5,58.8 L518.5,58.8 L520.5,58.9 L522.5,59.0 L524.5,59.0 L526.5,59.1 L528.5,59.2 L530.5,59.3 L532.5,59.3 L534.5,59.4 L536.5,59.5 L538.5,59.5 L540.5,59.6 L542.5,59.7 L544.5,59.8 L546.5,59.8 L548.5,59.9 L550.5,60.0 L552.5,60.0 L554.5,60.1 L556.5,60.2 L558.5,60.3 L560.5,60.3 L562.5,60.4 L564.5,60.5 L566.5,60.6 L568.5,60.6 L570.5,60.7 L572.5,60.8 L574.5,60.8 L576.5,60.9 L578.5,61.0 L580.5,61.1 L582.5,61.1 L584.5,61.2 L586.5,61.3 L588.5,61.4 L590.5,61.4 L592.5,61.5 L594.5,61.6 L596.5,61.7 L598.5,61.7 L600.5,61.8 L602.5,61.9 L604.5,62.0 L606.5,62.0 L608.5,62.1 L610.5,62.2 L612.5,62.3 L614.5,62.4 L616.5,62.4 L618.5,62.5 L620.5,62.6 L622.5,62.7 L624.5,62.7 L626.5,62.8 L628.5,62.9 L630.5,63.0 L632.5,63.0 L634.5,63.1 L636.5,63.2 L638.5,63.3 L640.5,63.4 L642.5,63.4 L644.5,63.5 L646.5,63.6 L648.5,63.7 L650.5,63.8 L652.5,63.8 L654.5,63.9 L656.5,64.0 L658.5,64.1 L660.5,64.2 L662.5,64.2 L664.5,64.3 L666.5,64.4 L668.5,64.5 L670.5,64.6 L672.5,64.7 L674.5,64.7 L676.5,64.8 L678.5,64.9 L680.5,65.0 L682.5,65.1 L684.5,65.2 L686.5,65.2 L688.5,65.3 L690.5,65.4 L692.5,65.5 L694.5,65.6 L696.5,65.7 L698.5,65.7 L700.5,65.8 L702.5,65.9 L704.5,66.0 L706.5,66.1 L708.5,66.2 L710.5,66.3 L712.5,66.4 L714.5,66.4 L716.5,66.5 L718.5,66.6 L720.5,66.7 L722.5,66.8 L724.5,66.9 L726.5,67.0 L728.5,67.1 L730.5,67.1 L732.5,67.2 L734.5,67.3 L736.5,67.4 L738.5,67.5 L740.5,67.6 L742.5,67.7 L744.5,67.8 L746.5,67.9 L748.5,68.0 L750.5,68.0 L752.5,68.1 L754.5,68.2 L756.5,68.3 L758.5,68.4 L760.5,68.5 L762.5,68.6 L764.5,68.7 L766.5,68.8 L768.5,68.9 L770.5,69.0 L772.5,69.1 L774.5,69.2 L776.5,69.2 L778.5,69.3 L780.5,69.4 L782.5,69.5 L784.5,69.6 L786.5,69.7 L788.5,69.8 L790.5,69.9 L792.5,70.0 L794.5,70.1 L796.5,70.2 L798.5,70.3 L800.5,70.4 L802.5,70.5 L804.5,70.6 L806.5,70.7 L808.5,70.8 L810.5,70.9 L812.5,71.0 L814.5,71.1 L816.5,71.2 L818.5,71.3 L820.5,71.4 L822.5,71.5 L824.5,71.6 L826.5,71.7 L828.5,71.8 L830.5,71.9 L832.5,72.0 L834.5,72.1 L836.5,72.2 L838.5,72.3 L840.5,72.4 L842.5,72.5 L844.5,72.6 L846.5,72.7 L848.5,72.8 L850.5,72.9 L852.5,73.0 L854.5,73.1 L856.5,73.2 L858.5,73.3 L860.5,73.4 L862.5,73.5 L864.5,73.6 L866.5,73.7 L868.5,73.8 L870.5,73.9 L872.5,74.0 L874.5,74.1 L876.5,74.2 L878.5,74.3 L880.5,74.4 L882.5,74.5 L884.5,74.6 L886.5,74.7 L888.5,74.8 L890.5,74.9 L892.5,75.0 L894.5,75.1 L896.5,75.2 L898.5,75.3 L900.5,75.5 L902.5,75.6 L904.5,75.7 L906.5,75.8 L908.5,75.9 L910.5,76.0 L912.5,76.1 L914.5,76.2 L916.5,76.3 L918.5,76.4 L920.5,76.5 L922.5,76.6 L924.5,76.7 L926.5,76.9 L928.5,77.0 L930.5,77.1 L932.5,77.2 L934.5,77.3 L936.5,77.4 L938.5,77.5 L940.5,77.6 L942.5,77.7 L944.5,77.9 L946.5,78.0 L948.5,78.1 L950.5,78.2 L952.5,78.3 L954.5,78.4 L956.5,78.5 L958.5,78.6 L960.5,78.8 L962.5,78.9 L964.5,79.0 L966.5,79.1 L968.5,79.2 L970.5,79.3 L972.5,79.5 L974.5,79.6 L976.5,79.7 L978.5,79.8 L980.5,79.9 L982.5,80.0 L984.5,80.2 L986.5,80.3 L988.5,80.4 L990.5,80.5 L992.5,80.6 L994.5,80.8 L996.5,80.9 L998.5,81.0 L1000.5,81.1 L1002.5,81.2 L1004.5,81.4 L1006.5,81.5 L1008.5,81.6 L1010.5,81.7 L1012.5,81.9 L1014.5,82.0 L1016.5,82.1 L1018.5,82.2 L1020.5,82.3 L1022.5,82.5 L1024.5,82.6 L1026.5,82.7 L1028.5,82.9 L1030.5,83.0 L1032.5,83.1 L1034.5,83.2 L1036.5,83.4 L1038.5,83.5 L1040.5,83.6 L1042.5,83.8 L1044.5,83.9 L1046.5,84.0 L1048.5,84.1 L1050.5,84.3 L1052.5,84.4 L1054.5,84.5 L1056.5,84.7 L1058.5,84.8 L1060.5,84.9 L1062.5,85.1 L1064.5,85.2 L1066.5,85.3 L1068.5,85.5 L1070.5,85.6 L1072.5,85.8 L1074.5,85.9 L1076.5,86.0 L1078.5,86.2 L1080.5,86.3 L1082.5,86.4 L1084.5,86.6 L1086.5,86.7 L1088.5,86.9 L1090.5,87.0 L1092.5,87.2 L1094.5,87.3 L1096.5,87.4 L1098.5,87.6 L1100.5,87.7 L1102.5,87.9 L1104.5,88.0 L1106.5,88.2 L1108.5,88.3 L1110.5,88.5 L1112.5,88.6 L1114.5,88.7 L1116.5,88.9 L1118.5,89.0 L1120.5,89.2 L1122.5,89.3 L1124.5,89.5 L1126.5,89.6 L1128.5,89.8 L1130.5,89.9 L1132.5,90.1 L1134.5,90.3 L1136.5,90.4 L1138.5,90.6 L1140.5,90.7 L1142.5,90.9 L1144.5,91.0 L1146.5,91.2 L1148.5,91.3 L1150.5,91.5 L1152.5,91.7 L1154.5,91.8 L1156.5,92.0 L1158.5,92.1 L1160.5,92.3 L1162.5,92.5 L1164.5,92.6 L1166.5,92.8 L1168.5,92.9 L1170.5,93.1 L1172.5,93.3 L1174.5,93.4 L1176.5,93.6 L1178.5,93.8 L1180.5,93.9 L1182.5,94.1 L1184.5,94.3 L1186.0,94.4" stroke="#1c1c44" stroke-width="1.7" stroke-dasharray="1.3 3.4"/>
<path d="M162.5,43.0 L164.5,43.2 L166.5,43.3 L168.5,43.5 L170.5,43.6 L172.5,43.8 L174.5,43.9 L176.5,44.1 L178.5,44.2 L180.5,44.4 L182.5,44.5 L184.5,44.6 L186.5,44.8 L188.5,44.9 L190.5,45.0 L192.5,45.2 L194.5,45.3 L196.5,45.4 L198.5,45.6 L200.5,45.7 L202.5,45.8 L204.5,45.9 L206.5,46.1 L208.5,46.2 L210.5,46.3 L212.5,46.4 L214.5,46.5 L216.5,46.7 L218.5,46.8 L220.5,46.9 L222.5,47.0 L224.5,47.1 L226.5,47.2 L228.5,47.3 L230.5,47.4 L232.5,47.5 L234.5,47.6 L236.5,47.7 L238.5,47.8 L240.5,47.9 L242.5,48.0 L244.5,48.1 L246.5,48.2 L248.5,48.3 L250.5,48.4 L252.5,48.5 L254.5,48.6 L256.5,48.7 L258.5,48.8 L260.5,48.9 L262.5,49.0 L264.5,49.1 L266.5,49.2 L268.5,49.2 L270.5,49.3 L272.5,49.4 L274.5,49.5 L276.5,49.6 L278.5,49.7 L280.5,49.7 L282.5,49.8 L284.5,49.9 L286.5,50.0 L288.5,50.1 L290.5,50.1 L292.5,50.2 L294.5,50.3 L296.5,50.4 L298.5,50.5 L300.5,50.5 L302.5,50.6 L304.5,50.7 L306.5,50.8 L308.5,50.8 L310.5,50.9 L312.5,51.0 L314.5,51.0 L316.5,51.1 L318.5,51.2 L320.5,51.3 L322.5,51.3 L324.5,51.4 L326.5,51.5 L328.5,51.5 L330.5,51.6 L332.5,51.7 L334.5,51.8 L336.5,51.8 L338.5,51.9 L340.5,52.0 L342.5,52.0 L344.5,52.1 L346.5,52.2 L348.5,52.2 L350.5,52.3 L352.5,52.4 L354.5,52.4 L356.5,52.5 L358.5,52.6 L360.5,52.6 L362.5,52.7 L364.5,52.8 L366.5,52.9 L368.5,52.9 L370.5,53.0 L372.5,53.1 L374.5,53.1 L376.5,53.2 L378.5,53.3 L380.5,53.3 L382.5,53.4 L384.5,53.5 L386.5,53.5 L388.5,53.6 L390.5,53.7 L392.5,53.8 L394.5,53.8 L396.5,53.9 L398.5,54.0 L400.5,54.0 L402.5,54.1 L404.5,54.2 L406.5,54.2 L408.5,54.3 L410.5,54.4 L412.5,54.5 L414.5,54.5 L416.5,54.6 L418.5,54.7 L420.5,54.7 L422.5,54.8 L424.5,54.9 L426.5,54.9 L428.5,55.0 L430.5,55.1 L432.5,55.2 L434.5,55.2 L436.5,55.3 L438.5,55.4 L440.5,55.4 L442.5,55.5 L444.5,55.6 L446.5,55.7 L448.5,55.7 L450.5,55.8 L452.5,55.9 L454.5,55.9 L456.5,56.0 L458.5,56.1 L460.5,56.2 L462.5,56.2 L464.5,56.3 L466.5,56.4 L468.5,56.5 L470.5,56.5 L472.5,56.6 L474.5,56.7 L476.5,56.7 L478.5,56.8 L480.5,56.9 L482.5,57.0 L484.5,57.0 L486.5,57.1 L488.5,57.2 L490.5,57.3 L492.5,57.3 L494.5,57.4 L496.5,57.5 L498.5,57.5 L500.5,57.6 L502.5,57.7 L504.5,57.8 L506.5,57.8 L508.5,57.9 L510.5,58.0 L512.5,58.1 L514.5,58.1 L516.5,58.2 L518.5,58.3 L520.5,58.4 L522.5,58.4 L524.5,58.5 L526.5,58.6 L528.5,58.7 L530.5,58.7 L532.5,58.8 L534.5,58.9 L536.5,59.0 L538.5,59.0 L540.5,59.1 L542.5,59.2 L544.5,59.3 L546.5,59.3 L548.5,59.4 L550.5,59.5 L552.5,59.6 L554.5,59.6 L556.5,59.7 L558.5,59.8 L560.5,59.9 L562.5,59.9 L564.5,60.0 L566.5,60.1 L568.5,60.2 L570.5,60.2 L572.5,60.3 L574.5,60.4 L576.5,60.5 L578.5,60.6 L580.5,60.6 L582.5,60.7 L584.5,60.8 L586.5,60.9 L588.5,60.9 L590.5,61.0 L592.5,61.1 L594.5,61.2 L596.5,61.2 L598.5,61.3 L600.5,61.4 L602.5,61.5 L604.5,61.6 L606.5,61.6 L608.5,61.7 L610.5,61.8 L612.5,61.9 L614.5,61.9 L616.5,62.0 L618.5,62.1 L620.5,62.2 L622.5,62.3 L624.5,62.3 L626.5,62.4 L628.5,62.5 L630.5,62.6 L632.5,62.7 L634.5,62.7 L636.5,62.8 L638.5,62.9 L640.5,63.0 L642.5,63.1 L644.5,63.1 L646.5,63.2 L648.5,63.3 L650.5,63.4 L652.5,63.4 L654.5,63.5 L656.5,63.6 L658.5,63.7 L660.5,63.8 L662.5,63.8 L664.5,63.9 L666.5,64.0 L668.5,64.1 L670.5,64.2 L672.5,64.3 L674.5,64.3 L676.5,64.4 L678.5,64.5 L680.5,64.6 L682.5,64.7 L684.5,64.7 L686.5,64.8 L688.5,64.9 L690.5,65.0 L692.5,65.1 L694.5,65.1 L696.5,65.2 L698.5,65.3 L700.5,65.4 L702.5,65.5 L704.5,65.6 L706.5,65.6 L708.5,65.7 L710.5,65.8 L712.5,65.9 L714.5,66.0 L716.5,66.1 L718.5,66.1 L720.5,66.2 L722.5,66.3 L724.5,66.4 L726.5,66.5 L728.5,66.5 L730.5,66.6 L732.5,66.7 L734.5,66.8 L736.5,66.9 L738.5,67.0 L740.5,67.0 L742.5,67.1 L744.5,67.2 L746.5,67.3 L748.5,67.4 L750.5,67.5 L752.5,67.6 L754.5,67.6 L756.5,67.7 L758.5,67.8 L760.5,67.9 L762.5,68.0 L764.5,68.1 L766.5,68.1 L768.5,68.2 L770.5,68.3 L772.5,68.4 L774.5,68.5 L776.5,68.6 L778.5,68.6 L780.5,68.7 L782.5,68.8 L784.5,68.9 L786.5,69.0 L788.5,69.1 L790.5,69.2 L792.5,69.2 L794.5,69.3 L796.5,69.4 L798.5,69.5 L800.5,69.6 L802.5,69.7 L804.5,69.8 L806.5,69.8 L808.5,69.9 L810.5,70.0 L812.5,70.1 L814.5,70.2 L816.5,70.3 L818.5,70.4 L820.5,70.4 L822.5,70.5 L824.5,70.6 L826.5,70.7 L828.5,70.8 L830.5,70.9 L832.5,71.0 L834.5,71.1 L836.5,71.1 L838.5,71.2 L840.5,71.3 L842.5,71.4 L844.5,71.5 L846.5,71.6 L848.5,71.7 L850.5,71.7 L852.5,71.8 L854.5,71.9 L856.5,72.0 L858.5,72.1 L860.5,72.2 L862.5,72.3 L864.5,72.4 L866.5,72.4 L868.5,72.5 L870.5,72.6 L872.5,72.7 L874.5,72.8 L876.5,72.9 L878.5,73.0 L880.5,73.1 L882.5,73.1 L884.5,73.2 L886.5,73.3 L888.5,73.4 L890.5,73.5 L892.5,73.6 L894.5,73.7 L896.5,73.8 L898.5,73.8 L900.5,73.9 L902.5,74.0 L904.5,74.1 L906.5,74.2 L908.5,74.3 L910.5,74.4 L912.5,74.5 L914.5,74.6 L916.5,74.6 L918.5,74.7 L920.5,74.8 L922.5,74.9 L924.5,75.0 L926.5,75.1 L928.5,75.2 L930.5,75.3 L932.5,75.4 L934.5,75.4 L936.5,75.5 L938.5,75.6 L940.5,75.7 L942.5,75.8 L944.5,75.9 L946.5,76.0 L948.5,76.1 L950.5,76.2 L952.5,76.2 L954.5,76.3 L956.5,76.4 L958.5,76.5 L960.5,76.6 L962.5,76.7 L964.5,76.8 L966.5,76.9 L968.5,77.0 L970.5,77.0 L972.5,77.1 L974.5,77.2 L976.5,77.3 L978.5,77.4 L980.5,77.5 L982.5,77.6 L984.5,77.7 L986.5,77.8 L988.5,77.8 L990.5,77.9 L992.5,78.0 L994.5,78.1 L996.5,78.2 L998.5,78.3 L1000.5,78.4 L1002.5,78.5 L1004.5,78.6 L1006.5,78.7 L1008.5,78.7 L1010.5,78.8 L1012.5,78.9 L1014.5,79.0 L1016.5,79.1 L1018.5,79.2 L1020.5,79.3 L1022.5,79.4 L1024.5,79.5 L1026.5,79.6 L1028.5,79.6 L1030.5,79.7 L1032.5,79.8 L1034.5,79.9 L1036.5,80.0 L1038.5,80.1 L1040.5,80.2 L1042.5,80.3 L1044.5,80.4 L1046.5,80.5 L1048.5,80.5 L1050.5,80.6 L1052.5,80.7 L1054.5,80.8 L1056.5,80.9 L1058.5,81.0 L1060.5,81.1 L1062.5,81.2 L1064.5,81.3 L1066.5,81.4 L1068.5,81.4 L1070.5,81.5 L1072.5,81.6 L1074.5,81.7 L1076.5,81.8 L1078.5,81.9 L1080.5,82.0 L1082.5,82.1 L1084.5,82.2 L1086.5,82.3 L1088.5,82.3 L1090.5,82.4 L1092.5,82.5 L1094.5,82.6 L1096.5,82.7 L1098.5,82.8 L1100.5,82.9 L1102.5,83.0 L1104.5,83.1 L1106.5,83.2 L1108.5,83.2 L1110.5,83.3 L1112.5,83.4 L1114.5,83.5 L1116.5,83.6 L1118.5,83.7 L1120.5,83.8 L1122.5,83.9 L1124.5,84.0 L1126.5,84.1 L1128.5,84.1 L1130.5,84.2 L1132.5,84.3 L1134.5,84.4 L1136.5,84.5 L1138.5,84.6 L1140.5,84.7 L1142.5,84.8 L1144.5,84.9 L1146.5,85.0 L1148.5,85.0 L1150.5,85.1 L1152.5,85.2 L1154.5,85.3 L1156.5,85.4 L1158.5,85.5 L1160.5,85.6 L1162.5,85.7 L1164.5,85.8 L1166.5,85.9 L1168.5,85.9 L1170.5,86.0 L1172.5,86.1 L1174.5,86.2 L1176.5,86.3 L1178.5,86.4 L1180.5,86.5 L1182.5,86.6 L1184.5,86.7 L1186.0,86.7" stroke="#b02040" stroke-width="2.3" stroke-dasharray="10 5.5"/>
<path d="M162.5,43.0 L164.5,43.0 L166.5,43.0 L168.5,43.1 L170.5,43.1 L172.5,43.1 L174.5,43.1 L176.5,43.1 L178.5,43.2 L180.5,43.2 L182.5,43.2 L184.5,43.2 L186.5,43.2 L188.5,43.2 L190.5,43.3 L192.5,43.3 L194.5,43.3 L196.5,43.3 L198.5,43.3 L200.5,43.3 L202.5,43.4 L204.5,43.4 L206.5,43.4 L208.5,43.4 L210.5,43.4 L212.5,43.5 L214.5,43.5 L216.5,43.5 L218.5,43.5 L220.5,43.5 L222.5,43.5 L224.5,43.5 L226.5,43.6 L228.5,43.6 L230.5,43.6 L232.5,43.6 L234.5,43.6 L236.5,43.6 L238.5,43.7 L240.5,43.7 L242.5,43.7 L244.5,43.7 L246.5,43.7 L248.5,43.7 L250.5,43.7 L252.5,43.8 L254.5,43.8 L256.5,43.8 L258.5,43.8 L260.5,43.8 L262.5,43.8 L264.5,43.8 L266.5,43.9 L268.5,43.9 L270.5,43.9 L272.5,43.9 L274.5,43.9 L276.5,43.9 L278.5,43.9 L280.5,44.0 L282.5,44.0 L284.5,44.0 L286.5,44.0 L288.5,44.0 L290.5,44.0 L292.5,44.0 L294.5,44.0 L296.5,44.1 L298.5,44.1 L300.5,44.1 L302.5,44.1 L304.5,44.1 L306.5,44.1 L308.5,44.1 L310.5,44.1 L312.5,44.1 L314.5,44.2 L316.5,44.2 L318.5,44.2 L320.5,44.2 L322.5,44.2 L324.5,44.2 L326.5,44.2 L328.5,44.2 L330.5,44.2 L332.5,44.3 L334.5,44.3 L336.5,44.3 L338.5,44.3 L340.5,44.3 L342.5,44.3 L344.5,44.3 L346.5,44.3 L348.5,44.3 L350.5,44.4 L352.5,44.4 L354.5,44.4 L356.5,44.4 L358.5,44.4 L360.5,44.4 L362.5,44.4 L364.5,44.4 L366.5,44.4 L368.5,44.4 L370.5,44.4 L372.5,44.5 L374.5,44.5 L376.5,44.5 L378.5,44.5 L380.5,44.5 L382.5,44.5 L384.5,44.5 L386.5,44.5 L388.5,44.5 L390.5,44.5 L392.5,44.5 L394.5,44.6 L396.5,44.6 L398.5,44.6 L400.5,44.6 L402.5,44.6 L404.5,44.6 L406.5,44.6 L408.5,44.6 L410.5,44.6 L412.5,44.6 L414.5,44.6 L416.5,44.6 L418.5,44.7 L420.5,44.7 L422.5,44.7 L424.5,44.7 L426.5,44.7 L428.5,44.7 L430.5,44.7 L432.5,44.7 L434.5,44.7 L436.5,44.7 L438.5,44.7 L440.5,44.7 L442.5,44.7 L444.5,44.8 L446.5,44.8 L448.5,44.8 L450.5,44.8 L452.5,44.8 L454.5,44.8 L456.5,44.8 L458.5,44.8 L460.5,44.8 L462.5,44.8 L464.5,44.8 L466.5,44.8 L468.5,44.8 L470.5,44.8 L472.5,44.8 L474.5,44.9 L476.5,44.9 L478.5,44.9 L480.5,44.9 L482.5,44.9 L484.5,44.9 L486.5,44.9 L488.5,44.9 L490.5,44.9 L492.5,44.9 L494.5,44.9 L496.5,44.9 L498.5,44.9 L500.5,44.9 L502.5,44.9 L504.5,45.0 L506.5,45.0 L508.5,45.0 L510.5,45.0 L512.5,45.0 L514.5,45.0 L516.5,45.0 L518.5,45.0 L520.5,45.0 L522.5,45.0 L524.5,45.0 L526.5,45.0 L528.5,45.0 L530.5,45.0 L532.5,45.0 L534.5,45.0 L536.5,45.0 L538.5,45.0 L540.5,45.1 L542.5,45.1 L544.5,45.1 L546.5,45.1 L548.5,45.1 L550.5,45.1 L552.5,45.1 L554.5,45.1 L556.5,45.1 L558.5,45.1 L560.5,45.1 L562.5,45.1 L564.5,45.1 L566.5,45.1 L568.5,45.1 L570.5,45.1 L572.5,45.1 L574.5,45.1 L576.5,45.2 L578.5,45.2 L580.5,45.2 L582.5,45.2 L584.5,45.2 L586.5,45.2 L588.5,45.2 L590.5,45.2 L592.5,45.2 L594.5,45.2 L596.5,45.2 L598.5,45.2 L600.5,45.2 L602.5,45.2 L604.5,45.2 L606.5,45.2 L608.5,45.2 L610.5,45.2 L612.5,45.2 L614.5,45.3 L616.5,45.3 L618.5,45.3 L620.5,45.3 L622.5,45.3 L624.5,45.3 L626.5,45.3 L628.5,45.3 L630.5,45.3 L632.5,45.3 L634.5,45.3 L636.5,45.3 L638.5,45.3 L640.5,45.3 L642.5,45.3 L644.5,45.3 L646.5,45.3 L648.5,45.3 L650.5,45.4 L652.5,45.4 L654.5,45.4 L656.5,45.4 L658.5,45.4 L660.5,45.4 L662.5,45.4 L664.5,45.4 L666.5,45.4 L668.5,45.4 L670.5,45.4 L672.5,45.4 L674.5,45.4 L676.5,45.4 L678.5,45.4 L680.5,45.4 L682.5,45.4 L684.5,45.4 L686.5,45.5 L688.5,45.5 L690.5,45.5 L692.5,45.5 L694.5,45.5 L696.5,45.5 L698.5,45.5 L700.5,45.5 L702.5,45.5 L704.5,45.5 L706.5,45.5 L708.5,45.5 L710.5,45.5 L712.5,45.5 L714.5,45.5 L716.5,45.5 L718.5,45.5 L720.5,45.6 L722.5,45.6 L724.5,45.6 L726.5,45.6 L728.5,45.6 L730.5,45.6 L732.5,45.6 L734.5,45.6 L736.5,45.6 L738.5,45.6 L740.5,45.6 L742.5,45.6 L744.5,45.6 L746.5,45.6 L748.5,45.6 L750.5,45.6 L752.5,45.7 L754.5,45.7 L756.5,45.7 L758.5,45.7 L760.5,45.7 L762.5,45.7 L764.5,45.7 L766.5,45.7 L768.5,45.7 L770.5,45.7 L772.5,45.7 L774.5,45.7 L776.5,45.7 L778.5,45.7 L780.5,45.8 L782.5,45.8 L784.5,45.8 L786.5,45.8 L788.5,45.8 L790.5,45.8 L792.5,45.8 L794.5,45.8 L796.5,45.8 L798.5,45.8 L800.5,45.8 L802.5,45.8 L804.5,45.8 L806.5,45.9 L808.5,45.9 L810.5,45.9 L812.5,45.9 L814.5,45.9 L816.5,45.9 L818.5,45.9 L820.5,45.9 L822.5,45.9 L824.5,45.9 L826.5,45.9 L828.5,45.9 L830.5,46.0 L832.5,46.0 L834.5,46.0 L836.5,46.0 L838.5,46.0 L840.5,46.0 L842.5,46.0 L844.5,46.0 L846.5,46.0 L848.5,46.0 L850.5,46.0 L852.5,46.1 L854.5,46.1 L856.5,46.1 L858.5,46.1 L860.5,46.1 L862.5,46.1 L864.5,46.1 L866.5,46.1 L868.5,46.1 L870.5,46.1 L872.5,46.2 L874.5,46.2 L876.5,46.2 L878.5,46.2 L880.5,46.2 L882.5,46.2 L884.5,46.2 L886.5,46.2 L888.5,46.2 L890.5,46.3 L892.5,46.3 L894.5,46.3 L896.5,46.3 L898.5,46.3 L900.5,46.3 L902.5,46.3 L904.5,46.3 L906.5,46.3 L908.5,46.4 L910.5,46.4 L912.5,46.4 L914.5,46.4 L916.5,46.4 L918.5,46.4 L920.5,46.4 L922.5,46.4 L924.5,46.5 L926.5,46.5 L928.5,46.5 L930.5,46.5 L932.5,46.5 L934.5,46.5 L936.5,46.5 L938.5,46.5 L940.5,46.6 L942.5,46.6 L944.5,46.6 L946.5,46.6 L948.5,46.6 L950.5,46.6 L952.5,46.6 L954.5,46.6 L956.5,46.7 L958.5,46.7 L960.5,46.7 L962.5,46.7 L964.5,46.7 L966.5,46.7 L968.5,46.7 L970.5,46.8 L972.5,46.8 L974.5,46.8 L976.5,46.8 L978.5,46.8 L980.5,46.8 L982.5,46.9 L984.5,46.9 L986.5,46.9 L988.5,46.9 L990.5,46.9 L992.5,46.9 L994.5,46.9 L996.5,47.0 L998.5,47.0 L1000.5,47.0 L1002.5,47.0 L1004.5,47.0 L1006.5,47.0 L1008.5,47.1 L1010.5,47.1 L1012.5,47.1 L1014.5,47.1 L1016.5,47.1 L1018.5,47.1 L1020.5,47.2 L1022.5,47.2 L1024.5,47.2 L1026.5,47.2 L1028.5,47.2 L1030.5,47.3 L1032.5,47.3 L1034.5,47.3 L1036.5,47.3 L1038.5,47.3 L1040.5,47.3 L1042.5,47.4 L1044.5,47.4 L1046.5,47.4 L1048.5,47.4 L1050.5,47.4 L1052.5,47.5 L1054.5,47.5 L1056.5,47.5 L1058.5,47.5 L1060.5,47.5 L1062.5,47.6 L1064.5,47.6 L1066.5,47.6 L1068.5,47.6 L1070.5,47.6 L1072.5,47.7 L1074.5,47.7 L1076.5,47.7 L1078.5,47.7 L1080.5,47.7 L1082.5,47.8 L1084.5,47.8 L1086.5,47.8 L1088.5,47.8 L1090.5,47.9 L1092.5,47.9 L1094.5,47.9 L1096.5,47.9 L1098.5,47.9 L1100.5,48.0 L1102.5,48.0 L1104.5,48.0 L1106.5,48.0 L1108.5,48.1 L1110.5,48.1 L1112.5,48.1 L1114.5,48.1 L1116.5,48.1 L1118.5,48.2 L1120.5,48.2 L1122.5,48.2 L1124.5,48.2 L1126.5,48.3 L1128.5,48.3 L1130.5,48.3 L1132.5,48.3 L1134.5,48.4 L1136.5,48.4 L1138.5,48.4 L1140.5,48.4 L1142.5,48.5 L1144.5,48.5 L1146.5,48.5 L1148.5,48.5 L1150.5,48.6 L1152.5,48.6 L1154.5,48.6 L1156.5,48.7 L1158.5,48.7 L1160.5,48.7 L1162.5,48.7 L1164.5,48.8 L1166.5,48.8 L1168.5,48.8 L1170.5,48.8 L1172.5,48.9 L1174.5,48.9 L1176.5,48.9 L1178.5,49.0 L1180.5,49.0 L1182.5,49.0 L1184.5,49.0 L1186.0,49.1" stroke="#151515" stroke-width="1.8"/>
<path d="M162.5,43.0 L164.5,43.0 L166.5,43.1 L168.5,43.1 L170.5,43.1 L172.5,43.2 L174.5,43.2 L176.5,43.3 L178.5,43.3 L180.5,43.3 L182.5,43.4 L184.5,43.4 L186.5,43.4 L188.5,43.5 L190.5,43.5 L192.5,43.5 L194.5,43.6 L196.5,43.6 L198.5,43.6 L200.5,43.7 L202.5,43.7 L204.5,43.7 L206.5,43.8 L208.5,43.8 L210.5,43.8 L212.5,43.8 L214.5,43.9 L216.5,43.9 L218.5,43.9 L220.5,44.0 L222.5,44.0 L224.5,44.0 L226.5,44.1 L228.5,44.1 L230.5,44.1 L232.5,44.1 L234.5,44.2 L236.5,44.2 L238.5,44.2 L240.5,44.2 L242.5,44.3 L244.5,44.3 L246.5,44.3 L248.5,44.4 L250.5,44.4 L252.5,44.4 L254.5,44.4 L256.5,44.5 L258.5,44.5 L260.5,44.5 L262.5,44.5 L264.5,44.6 L266.5,44.6 L268.5,44.6 L270.5,44.6 L272.5,44.7 L274.5,44.7 L276.5,44.7 L278.5,44.7 L280.5,44.8 L282.5,44.8 L284.5,44.8 L286.5,44.8 L288.5,44.8 L290.5,44.9 L292.5,44.9 L294.5,44.9 L296.5,44.9 L298.5,45.0 L300.5,45.0 L302.5,45.0 L304.5,45.0 L306.5,45.0 L308.5,45.1 L310.5,45.1 L312.5,45.1 L314.5,45.1 L316.5,45.1 L318.5,45.2 L320.5,45.2 L322.5,45.2 L324.5,45.2 L326.5,45.3 L328.5,45.3 L330.5,45.3 L332.5,45.3 L334.5,45.3 L336.5,45.4 L338.5,45.4 L340.5,45.4 L342.5,45.4 L344.5,45.4 L346.5,45.4 L348.5,45.5 L350.5,45.5 L352.5,45.5 L354.5,45.5 L356.5,45.5 L358.5,45.6 L360.5,45.6 L362.5,45.6 L364.5,45.6 L366.5,45.6 L368.5,45.7 L370.5,45.7 L372.5,45.7 L374.5,45.7 L376.5,45.7 L378.5,45.7 L380.5,45.8 L382.5,45.8 L384.5,45.8 L386.5,45.8 L388.5,45.8 L390.5,45.8 L392.5,45.9 L394.5,45.9 L396.5,45.9 L398.5,45.9 L400.5,45.9 L402.5,46.0 L404.5,46.0 L406.5,46.0 L408.5,46.0 L410.5,46.0 L412.5,46.0 L414.5,46.1 L416.5,46.1 L418.5,46.1 L420.5,46.1 L422.5,46.1 L424.5,46.1 L426.5,46.2 L428.5,46.2 L430.5,46.2 L432.5,46.2 L434.5,46.2 L436.5,46.2 L438.5,46.3 L440.5,46.3 L442.5,46.3 L444.5,46.3 L446.5,46.3 L448.5,46.3 L450.5,46.4 L452.5,46.4 L454.5,46.4 L456.5,46.4 L458.5,46.4 L460.5,46.4 L462.5,46.5 L464.5,46.5 L466.5,46.5 L468.5,46.5 L470.5,46.5 L472.5,46.6 L474.5,46.6 L476.5,46.6 L478.5,46.6 L480.5,46.6 L482.5,46.6 L484.5,46.7 L486.5,46.7 L488.5,46.7 L490.5,46.7 L492.5,46.7 L494.5,46.7 L496.5,46.8 L498.5,46.8 L500.5,46.8 L502.5,46.8 L504.5,46.8 L506.5,46.9 L508.5,46.9 L510.5,46.9 L512.5,46.9 L514.5,46.9 L516.5,47.0 L518.5,47.0 L520.5,47.0 L522.5,47.0 L524.5,47.0 L526.5,47.0 L528.5,47.1 L530.5,47.1 L532.5,47.1 L534.5,47.1 L536.5,47.1 L538.5,47.2 L540.5,47.2 L542.5,47.2 L544.5,47.2 L546.5,47.3 L548.5,47.3 L550.5,47.3 L552.5,47.3 L554.5,47.3 L556.5,47.4 L558.5,47.4 L560.5,47.4 L562.5,47.4 L564.5,47.4 L566.5,47.5 L568.5,47.5 L570.5,47.5 L572.5,47.5 L574.5,47.6 L576.5,47.6 L578.5,47.6 L580.5,47.6 L582.5,47.6 L584.5,47.7 L586.5,47.7 L588.5,47.7 L590.5,47.7 L592.5,47.8 L594.5,47.8 L596.5,47.8 L598.5,47.8 L600.5,47.9 L602.5,47.9 L604.5,47.9 L606.5,47.9 L608.5,48.0 L610.5,48.0 L612.5,48.0 L614.5,48.0 L616.5,48.1 L618.5,48.1 L620.5,48.1 L622.5,48.2 L624.5,48.2 L626.5,48.2 L628.5,48.2 L630.5,48.3 L632.5,48.3 L634.5,48.3 L636.5,48.4 L638.5,48.4 L640.5,48.4 L642.5,48.4 L644.5,48.5 L646.5,48.5 L648.5,48.5 L650.5,48.6 L652.5,48.6 L654.5,48.6 L656.5,48.7 L658.5,48.7 L660.5,48.7 L662.5,48.7 L664.5,48.8 L666.5,48.8 L668.5,48.8 L670.5,48.9 L672.5,48.9 L674.5,48.9 L676.5,49.0 L678.5,49.0 L680.5,49.0 L682.5,49.1 L684.5,49.1 L686.5,49.1 L688.5,49.2 L690.5,49.2 L692.5,49.3 L694.5,49.3 L696.5,49.3 L698.5,49.4 L700.5,49.4 L702.5,49.4 L704.5,49.5 L706.5,49.5 L708.5,49.5 L710.5,49.6 L712.5,49.6 L714.5,49.7 L716.5,49.7 L718.5,49.7 L720.5,49.8 L722.5,49.8 L724.5,49.9 L726.5,49.9 L728.5,49.9 L730.5,50.0 L732.5,50.0 L734.5,50.1 L736.5,50.1 L738.5,50.1 L740.5,50.2 L742.5,50.2 L744.5,50.3 L746.5,50.3 L748.5,50.3 L750.5,50.4 L752.5,50.4 L754.5,50.5 L756.5,50.5 L758.5,50.6 L760.5,50.6 L762.5,50.6 L764.5,50.7 L766.5,50.7 L768.5,50.8 L770.5,50.8 L772.5,50.9 L774.5,50.9 L776.5,51.0 L778.5,51.0 L780.5,51.1 L782.5,51.1 L784.5,51.1 L786.5,51.2 L788.5,51.2 L790.5,51.3 L792.5,51.3 L794.5,51.4 L796.5,51.4 L798.5,51.5 L800.5,51.5 L802.5,51.6 L804.5,51.6 L806.5,51.7 L808.5,51.7 L810.5,51.8 L812.5,51.8 L814.5,51.9 L816.5,51.9 L818.5,52.0 L820.5,52.0 L822.5,52.1 L824.5,52.1 L826.5,52.2 L828.5,52.2 L830.5,52.3 L832.5,52.3 L834.5,52.4 L836.5,52.4 L838.5,52.5 L840.5,52.6 L842.5,52.6 L844.5,52.7 L846.5,52.7 L848.5,52.8 L850.5,52.8 L852.5,52.9 L854.5,52.9 L856.5,53.0 L858.5,53.0 L860.5,53.1 L862.5,53.2 L864.5,53.2 L866.5,53.3 L868.5,53.3 L870.5,53.4 L872.5,53.4 L874.5,53.5 L876.5,53.6 L878.5,53.6 L880.5,53.7 L882.5,53.7 L884.5,53.8 L886.5,53.8 L888.5,53.9 L890.5,54.0 L892.5,54.0 L894.5,54.1 L896.5,54.1 L898.5,54.2 L900.5,54.3 L902.5,54.3 L904.5,54.4 L906.5,54.4 L908.5,54.5 L910.5,54.6 L912.5,54.6 L914.5,54.7 L916.5,54.8 L918.5,54.8 L920.5,54.9 L922.5,54.9 L924.5,55.0 L926.5,55.1 L928.5,55.1 L930.5,55.2 L932.5,55.3 L934.5,55.3 L936.5,55.4 L938.5,55.5 L940.5,55.5 L942.5,55.6 L944.5,55.7 L946.5,55.7 L948.5,55.8 L950.5,55.8 L952.5,55.9 L954.5,56.0 L956.5,56.0 L958.5,56.1 L960.5,56.2 L962.5,56.3 L964.5,56.3 L966.5,56.4 L968.5,56.5 L970.5,56.5 L972.5,56.6 L974.5,56.7 L976.5,56.7 L978.5,56.8 L980.5,56.9 L982.5,56.9 L984.5,57.0 L986.5,57.1 L988.5,57.2 L990.5,57.2 L992.5,57.3 L994.5,57.4 L996.5,57.4 L998.5,57.5 L1000.5,57.6 L1002.5,57.7 L1004.5,57.7 L1006.5,57.8 L1008.5,57.9 L1010.5,57.9 L1012.5,58.0 L1014.5,58.1 L1016.5,58.2 L1018.5,58.2 L1020.5,58.3 L1022.5,58.4 L1024.5,58.5 L1026.5,58.5 L1028.5,58.6 L1030.5,58.7 L1032.5,58.8 L1034.5,58.8 L1036.5,58.9 L1038.5,59.0 L1040.5,59.1 L1042.5,59.1 L1044.5,59.2 L1046.5,59.3 L1048.5,59.4 L1050.5,59.5 L1052.5,59.5 L1054.5,59.6 L1056.5,59.7 L1058.5,59.8 L1060.5,59.9 L1062.5,59.9 L1064.5,60.0 L1066.5,60.1 L1068.5,60.2 L1070.5,60.2 L1072.5,60.3 L1074.5,60.4 L1076.5,60.5 L1078.5,60.6 L1080.5,60.7 L1082.5,60.7 L1084.5,60.8 L1086.5,60.9 L1088.5,61.0 L1090.5,61.1 L1092.5,61.1 L1094.5,61.2 L1096.5,61.3 L1098.5,61.4 L1100.5,61.5 L1102.5,61.6 L1104.5,61.6 L1106.5,61.7 L1108.5,61.8 L1110.5,61.9 L1112.5,62.0 L1114.5,62.1 L1116.5,62.2 L1118.5,62.2 L1120.5,62.3 L1122.5,62.4 L1124.5,62.5 L1126.5,62.6 L1128.5,62.7 L1130.5,62.8 L1132.5,62.8 L1134.5,62.9 L1136.5,63.0 L1138.5,63.1 L1140.5,63.2 L1142.5,63.3 L1144.5,63.4 L1146.5,63.5 L1148.5,63.6 L1150.5,63.6 L1152.5,63.7 L1154.5,63.8 L1156.5,63.9 L1158.5,64.0 L1160.5,64.1 L1162.5,64.2 L1164.5,64.3 L1166.5,64.4 L1168.5,64.5 L1170.5,64.5 L1172.5,64.6 L1174.5,64.7 L1176.5,64.8 L1178.5,64.9 L1180.5,65.0 L1182.5,65.1 L1184.5,65.2 L1186.0,65.3" stroke="#283282" stroke-width="2.2"/>
<path d="M162.5,43.0 L164.5,43.1 L166.5,43.1 L168.5,43.2 L170.5,43.3 L172.5,43.4 L174.5,43.4 L176.5,43.5 L178.5,43.6 L180.5,43.6 L182.5,43.7 L184.5,43.7 L186.5,43.8 L188.5,43.9 L190.5,43.9 L192.5,44.0 L194.5,44.1 L196.5,44.1 L198.5,44.2 L200.5,44.3 L202.5,44.3 L204.5,44.4 L206.5,44.4 L208.5,44.5 L210.5,44.5 L212.5,44.6 L214.5,44.7 L216.5,44.7 L218.5,44.8 L220.5,44.8 L222.5,44.9 L224.5,44.9 L226.5,45.0 L228.5,45.1 L230.5,45.1 L232.5,45.2 L234.5,45.2 L236.5,45.3 L238.5,45.3 L240.5,45.4 L242.5,45.4 L244.5,45.5 L246.5,45.5 L248.5,45.6 L250.5,45.6 L252.5,45.7 L254.5,45.7 L256.5,45.8 L258.5,45.8 L260.5,45.9 L262.5,45.9 L264.5,46.0 L266.5,46.0 L268.5,46.0 L270.5,46.1 L272.5,46.1 L274.5,46.2 L276.5,46.2 L278.5,46.3 L280.5,46.3 L282.5,46.3 L284.5,46.4 L286.5,46.4 L288.5,46.5 L290.5,46.5 L292.5,46.6 L294.5,46.6 L296.5,46.6 L298.5,46.7 L300.5,46.7 L302.5,46.8 L304.5,46.8 L306.5,46.8 L308.5,46.9 L310.5,46.9 L312.5,46.9 L314.5,47.0 L316.5,47.0 L318.5,47.1 L320.5,47.1 L322.5,47.1 L324.5,47.2 L326.5,47.2 L328.5,47.2 L330.5,47.3 L332.5,47.3 L334.5,47.3 L336.5,47.4 L338.5,47.4 L340.5,47.4 L342.5,47.5 L344.5,47.5 L346.5,47.5 L348.5,47.6 L350.5,47.6 L352.5,47.6 L354.5,47.6 L356.5,47.7 L358.5,47.7 L360.5,47.7 L362.5,47.8 L364.5,47.8 L366.5,47.8 L368.5,47.9 L370.5,47.9 L372.5,47.9 L374.5,47.9 L376.5,48.0 L378.5,48.0 L380.5,48.0 L382.5,48.0 L384.5,48.1 L386.5,48.1 L388.5,48.1 L390.5,48.2 L392.5,48.2 L394.5,48.2 L396.5,48.2 L398.5,48.3 L400.5,48.3 L402.5,48.3 L404.5,48.3 L406.5,48.4 L408.5,48.4 L410.5,48.4 L412.5,48.4 L414.5,48.4 L416.5,48.5 L418.5,48.5 L420.5,48.5 L422.5,48.5 L424.5,48.6 L426.5,48.6 L428.5,48.6 L430.5,48.6 L432.5,48.7 L434.5,48.7 L436.5,48.7 L438.5,48.7 L440.5,48.7 L442.5,48.8 L444.5,48.8 L446.5,48.8 L448.5,48.8 L450.5,48.8 L452.5,48.9 L454.5,48.9 L456.5,48.9 L458.5,48.9 L460.5,48.9 L462.5,49.0 L464.5,49.0 L466.5,49.0 L468.5,49.0 L470.5,49.0 L472.5,49.1 L474.5,49.1 L476.5,49.1 L478.5,49.1 L480.5,49.1 L482.5,49.2 L484.5,49.2 L486.5,49.2 L488.5,49.2 L490.5,49.2 L492.5,49.3 L494.5,49.3 L496.5,49.3 L498.5,49.3 L500.5,49.3 L502.5,49.4 L504.5,49.4 L506.5,49.4 L508.5,49.4 L510.5,49.4 L512.5,49.4 L514.5,49.5 L516.5,49.5 L518.5,49.5 L520.5,49.5 L522.5,49.5 L524.5,49.6 L526.5,49.6 L528.5,49.6 L530.5,49.6 L532.5,49.6 L534.5,49.6 L536.5,49.7 L538.5,49.7 L540.5,49.7 L542.5,49.7 L544.5,49.7 L546.5,49.7 L548.5,49.8 L550.5,49.8 L552.5,49.8 L554.5,49.8 L556.5,49.8 L558.5,49.9 L560.5,49.9 L562.5,49.9 L564.5,49.9 L566.5,49.9 L568.5,49.9 L570.5,50.0 L572.5,50.0 L574.5,50.0 L576.5,50.0 L578.5,50.0 L580.5,50.1 L582.5,50.1 L584.5,50.1 L586.5,50.1 L588.5,50.1 L590.5,50.2 L592.5,50.2 L594.5,50.2 L596.5,50.2 L598.5,50.2 L600.5,50.3 L602.5,50.3 L604.5,50.3 L606.5,50.3 L608.5,50.3 L610.5,50.4 L612.5,50.4 L614.5,50.4 L616.5,50.4 L618.5,50.4 L620.5,50.5 L622.5,50.5 L624.5,50.5 L626.5,50.5 L628.5,50.5 L630.5,50.6 L632.5,50.6 L634.5,50.6 L636.5,50.6 L638.5,50.6 L640.5,50.7 L642.5,50.7 L644.5,50.7 L646.5,50.7 L648.5,50.8 L650.5,50.8 L652.5,50.8 L654.5,50.8 L656.5,50.9 L658.5,50.9 L660.5,50.9 L662.5,50.9 L664.5,50.9 L666.5,51.0 L668.5,51.0 L670.5,51.0 L672.5,51.0 L674.5,51.1 L676.5,51.1 L678.5,51.1 L680.5,51.1 L682.5,51.2 L684.5,51.2 L686.5,51.2 L688.5,51.3 L690.5,51.3 L692.5,51.3 L694.5,51.3 L696.5,51.4 L698.5,51.4 L700.5,51.4 L702.5,51.4 L704.5,51.5 L706.5,51.5 L708.5,51.5 L710.5,51.6 L712.5,51.6 L714.5,51.6 L716.5,51.6 L718.5,51.7 L720.5,51.7 L722.5,51.7 L724.5,51.8 L726.5,51.8 L728.5,51.8 L730.5,51.8 L732.5,51.9 L734.5,51.9 L736.5,51.9 L738.5,52.0 L740.5,52.0 L742.5,52.0 L744.5,52.1 L746.5,52.1 L748.5,52.1 L750.5,52.1 L752.5,52.2 L754.5,52.2 L756.5,52.2 L758.5,52.3 L760.5,52.3 L762.5,52.3 L764.5,52.4 L766.5,52.4 L768.5,52.4 L770.5,52.5 L772.5,52.5 L774.5,52.5 L776.5,52.6 L778.5,52.6 L780.5,52.6 L782.5,52.7 L784.5,52.7 L786.5,52.7 L788.5,52.8 L790.5,52.8 L792.5,52.8 L794.5,52.9 L796.5,52.9 L798.5,52.9 L800.5,53.0 L802.5,53.0 L804.5,53.0 L806.5,53.1 L808.5,53.1 L810.5,53.2 L812.5,53.2 L814.5,53.2 L816.5,53.3 L818.5,53.3 L820.5,53.3 L822.5,53.4 L824.5,53.4 L826.5,53.4 L828.5,53.5 L830.5,53.5 L832.5,53.6 L834.5,53.6 L836.5,53.6 L838.5,53.7 L840.5,53.7 L842.5,53.7 L844.5,53.8 L846.5,53.8 L848.5,53.9 L850.5,53.9 L852.5,53.9 L854.5,54.0 L856.5,54.0 L858.5,54.0 L860.5,54.1 L862.5,54.1 L864.5,54.2 L866.5,54.2 L868.5,54.2 L870.5,54.3 L872.5,54.3 L874.5,54.4 L876.5,54.4 L878.5,54.4 L880.5,54.5 L882.5,54.5 L884.5,54.6 L886.5,54.6 L888.5,54.6 L890.5,54.7 L892.5,54.7 L894.5,54.8 L896.5,54.8 L898.5,54.9 L900.5,54.9 L902.5,54.9 L904.5,55.0 L906.5,55.0 L908.5,55.1 L910.5,55.1 L912.5,55.1 L914.5,55.2 L916.5,55.2 L918.5,55.3 L920.5,55.3 L922.5,55.4 L924.5,55.4 L926.5,55.4 L928.5,55.5 L930.5,55.5 L932.5,55.6 L934.5,55.6 L936.5,55.7 L938.5,55.7 L940.5,55.8 L942.5,55.8 L944.5,55.8 L946.5,55.9 L948.5,55.9 L950.5,56.0 L952.5,56.0 L954.5,56.1 L956.5,56.1 L958.5,56.2 L960.5,56.2 L962.5,56.2 L964.5,56.3 L966.5,56.3 L968.5,56.4 L970.5,56.4 L972.5,56.5 L974.5,56.5 L976.5,56.6 L978.5,56.6 L980.5,56.7 L982.5,56.7 L984.5,56.7 L986.5,56.8 L988.5,56.8 L990.5,56.9 L992.5,56.9 L994.5,57.0 L996.5,57.0 L998.5,57.1 L1000.5,57.1 L1002.5,57.2 L1004.5,57.2 L1006.5,57.3 L1008.5,57.3 L1010.5,57.4 L1012.5,57.4 L1014.5,57.5 L1016.5,57.5 L1018.5,57.5 L1020.5,57.6 L1022.5,57.6 L1024.5,57.7 L1026.5,57.7 L1028.5,57.8 L1030.5,57.8 L1032.5,57.9 L1034.5,57.9 L1036.5,58.0 L1038.5,58.0 L1040.5,58.1 L1042.5,58.1 L1044.5,58.2 L1046.5,58.2 L1048.5,58.3 L1050.5,58.3 L1052.5,58.4 L1054.5,58.4 L1056.5,58.5 L1058.5,58.5 L1060.5,58.6 L1062.5,58.6 L1064.5,58.7 L1066.5,58.7 L1068.5,58.8 L1070.5,58.8 L1072.5,58.9 L1074.5,58.9 L1076.5,59.0 L1078.5,59.0 L1080.5,59.1 L1082.5,59.1 L1084.5,59.2 L1086.5,59.2 L1088.5,59.3 L1090.5,59.3 L1092.5,59.4 L1094.5,59.4 L1096.5,59.5 L1098.5,59.5 L1100.5,59.6 L1102.5,59.7 L1104.5,59.7 L1106.5,59.8 L1108.5,59.8 L1110.5,59.9 L1112.5,59.9 L1114.5,60.0 L1116.5,60.0 L1118.5,60.1 L1120.5,60.1 L1122.5,60.2 L1124.5,60.2 L1126.5,60.3 L1128.5,60.3 L1130.5,60.4 L1132.5,60.4 L1134.5,60.5 L1136.5,60.5 L1138.5,60.6 L1140.5,60.6 L1142.5,60.7 L1144.5,60.8 L1146.5,60.8 L1148.5,60.9 L1150.5,60.9 L1152.5,61.0 L1154.5,61.0 L1156.5,61.1 L1158.5,61.1 L1160.5,61.2 L1162.5,61.2 L1164.5,61.3 L1166.5,61.3 L1168.5,61.4 L1170.5,61.5 L1172.5,61.5 L1174.5,61.6 L1176.5,61.6 L1178.5,61.7 L1180.5,61.7 L1182.5,61.8 L1184.5,61.8 L1186.0,61.9" stroke="#44aa4c" stroke-width="2.4" stroke-dasharray="10 5.5"/>
<path d="M162.5,43.0 L164.5,43.0 L166.5,43.1 L168.5,43.1 L170.5,43.1 L172.5,43.1 L174.5,43.2 L176.5,43.2 L178.5,43.2 L180.5,43.3 L182.5,43.3 L184.5,43.3 L186.5,43.3 L188.5,43.4 L190.5,43.4 L192.5,43.4 L194.5,43.4 L196.5,43.5 L198.5,43.5 L200.5,43.5 L202.5,43.5 L204.5,43.6 L206.5,43.6 L208.5,43.6 L210.5,43.6 L212.5,43.7 L214.5,43.7 L216.5,43.7 L218.5,43.7 L220.5,43.8 L222.5,43.8 L224.5,43.8 L226.5,43.8 L228.5,43.9 L230.5,43.9 L232.5,43.9 L234.5,43.9 L236.5,43.9 L238.5,44.0 L240.5,44.0 L242.5,44.0 L244.5,44.0 L246.5,44.1 L248.5,44.1 L250.5,44.1 L252.5,44.1 L254.5,44.1 L256.5,44.2 L258.5,44.2 L260.5,44.2 L262.5,44.2 L264.5,44.2 L266.5,44.3 L268.5,44.3 L270.5,44.3 L272.5,44.3 L274.5,44.3 L276.5,44.4 L278.5,44.4 L280.5,44.4 L282.5,44.4 L284.5,44.4 L286.5,44.5 L288.5,44.5 L290.5,44.5 L292.5,44.5 L294.5,44.5 L296.5,44.6 L298.5,44.6 L300.5,44.6 L302.5,44.6 L304.5,44.6 L306.5,44.7 L308.5,44.7 L310.5,44.7 L312.5,44.7 L314.5,44.7 L316.5,44.7 L318.5,44.8 L320.5,44.8 L322.5,44.8 L324.5,44.8 L326.5,44.8 L328.5,44.9 L330.5,44.9 L332.5,44.9 L334.5,44.9 L336.5,44.9 L338.5,44.9 L340.5,45.0 L342.5,45.0 L344.5,45.0 L346.5,45.0 L348.5,45.0 L350.5,45.0 L352.5,45.1 L354.5,45.1 L356.5,45.1 L358.5,45.1 L360.5,45.1 L362.5,45.1 L364.5,45.2 L366.5,45.2 L368.5,45.2 L370.5,45.2 L372.5,45.2 L374.5,45.2 L376.5,45.2 L378.5,45.3 L380.5,45.3 L382.5,45.3 L384.5,45.3 L386.5,45.3 L388.5,45.3 L390.5,45.4 L392.5,45.4 L394.5,45.4 L396.5,45.4 L398.5,45.4 L400.5,45.4 L402.5,45.4 L404.5,45.5 L406.5,45.5 L408.5,45.5 L410.5,45.5 L412.5,45.5 L414.5,45.5 L416.5,45.6 L418.5,45.6 L420.5,45.6 L422.5,45.6 L424.5,45.6 L426.5,45.6 L428.5,45.6 L430.5,45.7 L432.5,45.7 L434.5,45.7 L436.5,45.7 L438.5,45.7 L440.5,45.7 L442.5,45.7 L444.5,45.8 L446.5,45.8 L448.5,45.8 L450.5,45.8 L452.5,45.8 L454.5,45.8 L456.5,45.8 L458.5,45.9 L460.5,45.9 L462.5,45.9 L464.5,45.9 L466.5,45.9 L468.5,45.9 L470.5,45.9 L472.5,46.0 L474.5,46.0 L476.5,46.0 L478.5,46.0 L480.5,46.0 L482.5,46.0 L484.5,46.0 L486.5,46.1 L488.5,46.1 L490.5,46.1 L492.5,46.1 L494.5,46.1 L496.5,46.1 L498.5,46.2 L500.5,46.2 L502.5,46.2 L504.5,46.2 L506.5,46.2 L508.5,46.2 L510.5,46.2 L512.5,46.3 L514.5,46.3 L516.5,46.3 L518.5,46.3 L520.5,46.3 L522.5,46.3 L524.5,46.3 L526.5,46.4 L528.5,46.4 L530.5,46.4 L532.5,46.4 L534.5,46.4 L536.5,46.4 L538.5,46.5 L540.5,46.5 L542.5,46.5 L544.5,46.5 L546.5,46.5 L548.5,46.5 L550.5,46.5 L552.5,46.6 L554.5,46.6 L556.5,46.6 L558.5,46.6 L560.5,46.6 L562.5,46.6 L564.5,46.7 L566.5,46.7 L568.5,46.7 L570.5,46.7 L572.5,46.7 L574.5,46.7 L576.5,46.8 L578.5,46.8 L580.5,46.8 L582.5,46.8 L584.5,46.8 L586.5,46.8 L588.5,46.9 L590.5,46.9 L592.5,46.9 L594.5,46.9 L596.5,46.9 L598.5,46.9 L600.5,47.0 L602.5,47.0 L604.5,47.0 L606.5,47.0 L608.5,47.0 L610.5,47.1 L612.5,47.1 L614.5,47.1 L616.5,47.1 L618.5,47.1 L620.5,47.1 L622.5,47.2 L624.5,47.2 L626.5,47.2 L628.5,47.2 L630.5,47.2 L632.5,47.3 L634.5,47.3 L636.5,47.3 L638.5,47.3 L640.5,47.3 L642.5,47.4 L644.5,47.4 L646.5,47.4 L648.5,47.4 L650.5,47.4 L652.5,47.5 L654.5,47.5 L656.5,47.5 L658.5,47.5 L660.5,47.5 L662.5,47.6 L664.5,47.6 L666.5,47.6 L668.5,47.6 L670.5,47.6 L672.5,47.7 L674.5,47.7 L676.5,47.7 L678.5,47.7 L680.5,47.7 L682.5,47.8 L684.5,47.8 L686.5,47.8 L688.5,47.8 L690.5,47.9 L692.5,47.9 L694.5,47.9 L696.5,47.9 L698.5,47.9 L700.5,48.0 L702.5,48.0 L704.5,48.0 L706.5,48.0 L708.5,48.1 L710.5,48.1 L712.5,48.1 L714.5,48.1 L716.5,48.2 L718.5,48.2 L720.5,48.2 L722.5,48.2 L724.5,48.3 L726.5,48.3 L728.5,48.3 L730.5,48.3 L732.5,48.4 L734.5,48.4 L736.5,48.4 L738.5,48.4 L740.5,48.5 L742.5,48.5 L744.5,48.5 L746.5,48.5 L748.5,48.6 L750.5,48.6 L752.5,48.6 L754.5,48.6 L756.5,48.7 L758.5,48.7 L760.5,48.7 L762.5,48.7 L764.5,48.8 L766.5,48.8 L768.5,48.8 L770.5,48.8 L772.5,48.9 L774.5,48.9 L776.5,48.9 L778.5,49.0 L780.5,49.0 L782.5,49.0 L784.5,49.0 L786.5,49.1 L788.5,49.1 L790.5,49.1 L792.5,49.1 L794.5,49.2 L796.5,49.2 L798.5,49.2 L800.5,49.3 L802.5,49.3 L804.5,49.3 L806.5,49.3 L808.5,49.4 L810.5,49.4 L812.5,49.4 L814.5,49.5 L816.5,49.5 L818.5,49.5 L820.5,49.5 L822.5,49.6 L824.5,49.6 L826.5,49.6 L828.5,49.7 L830.5,49.7 L832.5,49.7 L834.5,49.7 L836.5,49.8 L838.5,49.8 L840.5,49.8 L842.5,49.9 L844.5,49.9 L846.5,49.9 L848.5,50.0 L850.5,50.0 L852.5,50.0 L854.5,50.1 L856.5,50.1 L858.5,50.1 L860.5,50.1 L862.5,50.2 L864.5,50.2 L866.5,50.2 L868.5,50.3 L870.5,50.3 L872.5,50.3 L874.5,50.4 L876.5,50.4 L878.5,50.4 L880.5,50.5 L882.5,50.5 L884.5,50.5 L886.5,50.6 L888.5,50.6 L890.5,50.6 L892.5,50.6 L894.5,50.7 L896.5,50.7 L898.5,50.7 L900.5,50.8 L902.5,50.8 L904.5,50.8 L906.5,50.9 L908.5,50.9 L910.5,50.9 L912.5,51.0 L914.5,51.0 L916.5,51.0 L918.5,51.1 L920.5,51.1 L922.5,51.1 L924.5,51.2 L926.5,51.2 L928.5,51.2 L930.5,51.3 L932.5,51.3 L934.5,51.3 L936.5,51.4 L938.5,51.4 L940.5,51.4 L942.5,51.5 L944.5,51.5 L946.5,51.5 L948.5,51.6 L950.5,51.6 L952.5,51.7 L954.5,51.7 L956.5,51.7 L958.5,51.8 L960.5,51.8 L962.5,51.8 L964.5,51.9 L966.5,51.9 L968.5,51.9 L970.5,52.0 L972.5,52.0 L974.5,52.0 L976.5,52.1 L978.5,52.1 L980.5,52.1 L982.5,52.2 L984.5,52.2 L986.5,52.2 L988.5,52.3 L990.5,52.3 L992.5,52.4 L994.5,52.4 L996.5,52.4 L998.5,52.5 L1000.5,52.5 L1002.5,52.5 L1004.5,52.6 L1006.5,52.6 L1008.5,52.6 L1010.5,52.7 L1012.5,52.7 L1014.5,52.8 L1016.5,52.8 L1018.5,52.8 L1020.5,52.9 L1022.5,52.9 L1024.5,52.9 L1026.5,53.0 L1028.5,53.0 L1030.5,53.0 L1032.5,53.1 L1034.5,53.1 L1036.5,53.2 L1038.5,53.2 L1040.5,53.2 L1042.5,53.3 L1044.5,53.3 L1046.5,53.3 L1048.5,53.4 L1050.5,53.4 L1052.5,53.5 L1054.5,53.5 L1056.5,53.5 L1058.5,53.6 L1060.5,53.6 L1062.5,53.6 L1064.5,53.7 L1066.5,53.7 L1068.5,53.8 L1070.5,53.8 L1072.5,53.8 L1074.5,53.9 L1076.5,53.9 L1078.5,54.0 L1080.5,54.0 L1082.5,54.0 L1084.5,54.1 L1086.5,54.1 L1088.5,54.1 L1090.5,54.2 L1092.5,54.2 L1094.5,54.3 L1096.5,54.3 L1098.5,54.3 L1100.5,54.4 L1102.5,54.4 L1104.5,54.5 L1106.5,54.5 L1108.5,54.5 L1110.5,54.6 L1112.5,54.6 L1114.5,54.7 L1116.5,54.7 L1118.5,54.7 L1120.5,54.8 L1122.5,54.8 L1124.5,54.8 L1126.5,54.9 L1128.5,54.9 L1130.5,55.0 L1132.5,55.0 L1134.5,55.0 L1136.5,55.1 L1138.5,55.1 L1140.5,55.2 L1142.5,55.2 L1144.5,55.2 L1146.5,55.3 L1148.5,55.3 L1150.5,55.4 L1152.5,55.4 L1154.5,55.4 L1156.5,55.5 L1158.5,55.5 L1160.5,55.6 L1162.5,55.6 L1164.5,55.6 L1166.5,55.7 L1168.5,55.7 L1170.5,55.8 L1172.5,55.8 L1174.5,55.8 L1176.5,55.9 L1178.5,55.9 L1180.5,56.0 L1182.5,56.0 L1184.5,56.1 L1186.0,56.1" stroke="#35308a" stroke-width="2.0" stroke-dasharray="12 4"/>
<path d="M162.5,43.0 L164.5,43.0 L166.5,43.0 L168.5,43.1 L170.5,43.1 L172.5,43.1 L174.5,43.1 L176.5,43.2 L178.5,43.2 L180.5,43.2 L182.5,43.2 L184.5,43.3 L186.5,43.3 L188.5,43.3 L190.5,43.3 L192.5,43.3 L194.5,43.4 L196.5,43.4 L198.5,43.4 L200.5,43.4 L202.5,43.4 L204.5,43.5 L206.5,43.5 L208.5,43.5 L210.5,43.5 L212.5,43.6 L214.5,43.6 L216.5,43.6 L218.5,43.6 L220.5,43.6 L222.5,43.7 L224.5,43.7 L226.5,43.7 L228.5,43.7 L230.5,43.7 L232.5,43.7 L234.5,43.8 L236.5,43.8 L238.5,43.8 L240.5,43.8 L242.5,43.8 L244.5,43.9 L246.5,43.9 L248.5,43.9 L250.5,43.9 L252.5,43.9 L254.5,44.0 L256.5,44.0 L258.5,44.0 L260.5,44.0 L262.5,44.0 L264.5,44.0 L266.5,44.1 L268.5,44.1 L270.5,44.1 L272.5,44.1 L274.5,44.1 L276.5,44.1 L278.5,44.2 L280.5,44.2 L282.5,44.2 L284.5,44.2 L286.5,44.2 L288.5,44.2 L290.5,44.3 L292.5,44.3 L294.5,44.3 L296.5,44.3 L298.5,44.3 L300.5,44.3 L302.5,44.3 L304.5,44.4 L306.5,44.4 L308.5,44.4 L310.5,44.4 L312.5,44.4 L314.5,44.4 L316.5,44.4 L318.5,44.5 L320.5,44.5 L322.5,44.5 L324.5,44.5 L326.5,44.5 L328.5,44.5 L330.5,44.5 L332.5,44.6 L334.5,44.6 L336.5,44.6 L338.5,44.6 L340.5,44.6 L342.5,44.6 L344.5,44.6 L346.5,44.7 L348.5,44.7 L350.5,44.7 L352.5,44.7 L354.5,44.7 L356.5,44.7 L358.5,44.7 L360.5,44.7 L362.5,44.8 L364.5,44.8 L366.5,44.8 L368.5,44.8 L370.5,44.8 L372.5,44.8 L374.5,44.8 L376.5,44.8 L378.5,44.9 L380.5,44.9 L382.5,44.9 L384.5,44.9 L386.5,44.9 L388.5,44.9 L390.5,44.9 L392.5,44.9 L394.5,45.0 L396.5,45.0 L398.5,45.0 L400.5,45.0 L402.5,45.0 L404.5,45.0 L406.5,45.0 L408.5,45.0 L410.5,45.0 L412.5,45.1 L414.5,45.1 L416.5,45.1 L418.5,45.1 L420.5,45.1 L422.5,45.1 L424.5,45.1 L426.5,45.1 L428.5,45.1 L430.5,45.2 L432.5,45.2 L434.5,45.2 L436.5,45.2 L438.5,45.2 L440.5,45.2 L442.5,45.2 L444.5,45.2 L446.5,45.2 L448.5,45.3 L450.5,45.3 L452.5,45.3 L454.5,45.3 L456.5,45.3 L458.5,45.3 L460.5,45.3 L462.5,45.3 L464.5,45.3 L466.5,45.3 L468.5,45.4 L470.5,45.4 L472.5,45.4 L474.5,45.4 L476.5,45.4 L478.5,45.4 L480.5,45.4 L482.5,45.4 L484.5,45.4 L486.5,45.5 L488.5,45.5 L490.5,45.5 L492.5,45.5 L494.5,45.5 L496.5,45.5 L498.5,45.5 L500.5,45.5 L502.5,45.5 L504.5,45.5 L506.5,45.6 L508.5,45.6 L510.5,45.6 L512.5,45.6 L514.5,45.6 L516.5,45.6 L518.5,45.6 L520.5,45.6 L522.5,45.6 L524.5,45.6 L526.5,45.7 L528.5,45.7 L530.5,45.7 L532.5,45.7 L534.5,45.7 L536.5,45.7 L538.5,45.7 L540.5,45.7 L542.5,45.7 L544.5,45.7 L546.5,45.8 L548.5,45.8 L550.5,45.8 L552.5,45.8 L554.5,45.8 L556.5,45.8 L558.5,45.8 L560.5,45.8 L562.5,45.8 L564.5,45.8 L566.5,45.9 L568.5,45.9 L570.5,45.9 L572.5,45.9 L574.5,45.9 L576.5,45.9 L578.5,45.9 L580.5,45.9 L582.5,45.9 L584.5,45.9 L586.5,46.0 L588.5,46.0 L590.5,46.0 L592.5,46.0 L594.5,46.0 L596.5,46.0 L598.5,46.0 L600.5,46.0 L602.5,46.0 L604.5,46.0 L606.5,46.1 L608.5,46.1 L610.5,46.1 L612.5,46.1 L614.5,46.1 L616.5,46.1 L618.5,46.1 L620.5,46.1 L622.5,46.1 L624.5,46.2 L626.5,46.2 L628.5,46.2 L630.5,46.2 L632.5,46.2 L634.5,46.2 L636.5,46.2 L638.5,46.2 L640.5,46.2 L642.5,46.3 L644.5,46.3 L646.5,46.3 L648.5,46.3 L650.5,46.3 L652.5,46.3 L654.5,46.3 L656.5,46.3 L658.5,46.4 L660.5,46.4 L662.5,46.4 L664.5,46.4 L666.5,46.4 L668.5,46.4 L670.5,46.4 L672.5,46.4 L674.5,46.5 L676.5,46.5 L678.5,46.5 L680.5,46.5 L682.5,46.5 L684.5,46.5 L686.5,46.5 L688.5,46.5 L690.5,46.6 L692.5,46.6 L694.5,46.6 L696.5,46.6 L698.5,46.6 L700.5,46.6 L702.5,46.6 L704.5,46.6 L706.5,46.7 L708.5,46.7 L710.5,46.7 L712.5,46.7 L714.5,46.7 L716.5,46.7 L718.5,46.7 L720.5,46.8 L722.5,46.8 L724.5,46.8 L726.5,46.8 L728.5,46.8 L730.5,46.8 L732.5,46.8 L734.5,46.9 L736.5,46.9 L738.5,46.9 L740.5,46.9 L742.5,46.9 L744.5,46.9 L746.5,46.9 L748.5,47.0 L750.5,47.0 L752.5,47.0 L754.5,47.0 L756.5,47.0 L758.5,47.0 L760.5,47.1 L762.5,47.1 L764.5,47.1 L766.5,47.1 L768.5,47.1 L770.5,47.1 L772.5,47.2 L774.5,47.2 L776.5,47.2 L778.5,47.2 L780.5,47.2 L782.5,47.2 L784.5,47.3 L786.5,47.3 L788.5,47.3 L790.5,47.3 L792.5,47.3 L794.5,47.3 L796.5,47.4 L798.5,47.4 L800.5,47.4 L802.5,47.4 L804.5,47.4 L806.5,47.4 L808.5,47.5 L810.5,47.5 L812.5,47.5 L814.5,47.5 L816.5,47.5 L818.5,47.6 L820.5,47.6 L822.5,47.6 L824.5,47.6 L826.5,47.6 L828.5,47.7 L830.5,47.7 L832.5,47.7 L834.5,47.7 L836.5,47.7 L838.5,47.8 L840.5,47.8 L842.5,47.8 L844.5,47.8 L846.5,47.8 L848.5,47.9 L850.5,47.9 L852.5,47.9 L854.5,47.9 L856.5,48.0 L858.5,48.0 L860.5,48.0 L862.5,48.0 L864.5,48.0 L866.5,48.1 L868.5,48.1 L870.5,48.1 L872.5,48.1 L874.5,48.2 L876.5,48.2 L878.5,48.2 L880.5,48.2 L882.5,48.2 L884.5,48.3 L886.5,48.3 L888.5,48.3 L890.5,48.3 L892.5,48.4 L894.5,48.4 L896.5,48.4 L898.5,48.4 L900.5,48.5 L902.5,48.5 L904.5,48.5 L906.5,48.5 L908.5,48.6 L910.5,48.6 L912.5,48.6 L914.5,48.6 L916.5,48.7 L918.5,48.7 L920.5,48.7 L922.5,48.8 L924.5,48.8 L926.5,48.8 L928.5,48.8 L930.5,48.9 L932.5,48.9 L934.5,48.9 L936.5,48.9 L938.5,49.0 L940.5,49.0 L942.5,49.0 L944.5,49.1 L946.5,49.1 L948.5,49.1 L950.5,49.1 L952.5,49.2 L954.5,49.2 L956.5,49.2 L958.5,49.3 L960.5,49.3 L962.5,49.3 L964.5,49.4 L966.5,49.4 L968.5,49.4 L970.5,49.5 L972.5,49.5 L974.5,49.5 L976.5,49.5 L978.5,49.6 L980.5,49.6 L982.5,49.6 L984.5,49.7 L986.5,49.7 L988.5,49.7 L990.5,49.8 L992.5,49.8 L994.5,49.8 L996.5,49.9 L998.5,49.9 L1000.5,49.9 L1002.5,50.0 L1004.5,50.0 L1006.5,50.0 L1008.5,50.1 L1010.5,50.1 L1012.5,50.2 L1014.5,50.2 L1016.5,50.2 L1018.5,50.3 L1020.5,50.3 L1022.5,50.3 L1024.5,50.4 L1026.5,50.4 L1028.5,50.4 L1030.5,50.5 L1032.5,50.5 L1034.5,50.6 L1036.5,50.6 L1038.5,50.6 L1040.5,50.7 L1042.5,50.7 L1044.5,50.7 L1046.5,50.8 L1048.5,50.8 L1050.5,50.9 L1052.5,50.9 L1054.5,50.9 L1056.5,51.0 L1058.5,51.0 L1060.5,51.1 L1062.5,51.1 L1064.5,51.2 L1066.5,51.2 L1068.5,51.2 L1070.5,51.3 L1072.5,51.3 L1074.5,51.4 L1076.5,51.4 L1078.5,51.4 L1080.5,51.5 L1082.5,51.5 L1084.5,51.6 L1086.5,51.6 L1088.5,51.7 L1090.5,51.7 L1092.5,51.8 L1094.5,51.8 L1096.5,51.8 L1098.5,51.9 L1100.5,51.9 L1102.5,52.0 L1104.5,52.0 L1106.5,52.1 L1108.5,52.1 L1110.5,52.2 L1112.5,52.2 L1114.5,52.3 L1116.5,52.3 L1118.5,52.4 L1120.5,52.4 L1122.5,52.4 L1124.5,52.5 L1126.5,52.5 L1128.5,52.6 L1130.5,52.6 L1132.5,52.7 L1134.5,52.7 L1136.5,52.8 L1138.5,52.8 L1140.5,52.9 L1142.5,52.9 L1144.5,53.0 L1146.5,53.0 L1148.5,53.1 L1150.5,53.1 L1152.5,53.2 L1154.5,53.3 L1156.5,53.3 L1158.5,53.4 L1160.5,53.4 L1162.5,53.5 L1164.5,53.5 L1166.5,53.6 L1168.5,53.6 L1170.5,53.7 L1172.5,53.7 L1174.5,53.8 L1176.5,53.8 L1178.5,53.9 L1180.5,54.0 L1182.5,54.0 L1184.5,54.1 L1186.0,54.1" stroke="#7a2a9c" stroke-width="2.4"/>
<path d="M162.5,43.0 L164.5,43.1 L166.5,43.2 L168.5,43.2 L170.5,43.3 L172.5,43.4 L174.5,43.5 L176.5,43.6 L178.5,43.7 L180.5,43.8 L182.5,43.9 L184.5,44.0 L186.5,44.1 L188.5,44.2 L190.5,44.3 L192.5,44.4 L194.5,44.5 L196.5,44.6 L198.5,44.7 L200.5,44.9 L202.5,45.0 L204.5,45.1 L206.5,45.2 L208.5,45.3 L210.5,45.5 L212.5,45.6 L214.5,45.7 L216.5,45.9 L218.5,46.0 L220.5,46.1 L222.5,46.3 L224.5,46.4 L226.5,46.6 L228.5,46.7 L230.5,46.8 L232.5,47.0 L234.5,47.1 L236.5,47.3 L238.5,47.4 L240.5,47.6 L242.5,47.8 L244.5,47.9 L246.5,48.1 L248.5,48.3 L250.5,48.4 L252.5,48.6 L254.5,48.8 L256.5,48.9 L258.5,49.1 L260.5,49.3 L262.5,49.5 L264.5,49.6 L266.5,49.8 L268.5,50.0 L270.5,50.2 L272.5,50.4 L274.5,50.6 L276.5,50.8 L278.5,51.0 L280.5,51.2 L282.5,51.4 L284.5,51.6 L286.5,51.8 L288.5,52.0 L290.5,52.2 L292.5,52.4 L294.5,52.6 L296.5,52.8 L298.5,53.0 L300.5,53.2 L302.5,53.5 L304.5,53.7 L306.5,53.9 L308.5,54.1 L310.5,54.4 L312.5,54.6 L314.5,54.8 L316.5,55.1 L318.5,55.3 L320.5,55.5 L322.5,55.8 L324.5,56.0 L326.5,56.2 L328.5,56.5 L330.5,56.7 L332.5,57.0 L334.5,57.2 L336.5,57.5 L338.5,57.8 L340.5,58.0 L342.5,58.3 L344.5,58.5 L346.5,58.8 L348.5,59.1 L350.5,59.3 L352.5,59.6 L354.5,59.9 L356.5,60.1 L358.5,60.4 L360.5,60.7 L362.5,61.0 L364.5,61.3 L366.5,61.5 L368.5,61.8 L370.5,62.1 L372.5,62.4 L374.5,62.7 L376.5,63.0 L378.5,63.3 L380.5,63.6 L382.5,63.9 L384.5,64.2 L386.5,64.5 L388.5,64.8 L390.5,65.1 L392.5,65.4 L394.5,65.7 L396.5,66.0 L398.5,66.4 L400.5,66.7 L402.5,67.0 L404.5,67.3 L406.5,67.7 L408.5,68.0 L410.5,68.3 L412.5,68.6 L414.5,69.0 L416.5,69.3 L418.5,69.6 L420.5,70.0 L422.5,70.3 L424.5,70.7 L426.5,71.0 L428.5,71.4 L430.5,71.7 L432.5,72.1 L434.5,72.4 L436.5,72.8 L438.5,73.1 L440.5,73.5 L442.5,73.8 L444.5,74.2 L446.5,74.6 L448.5,74.9 L450.5,75.3 L452.5,75.7 L454.5,76.1 L456.5,76.4 L458.5,76.8 L460.5,77.2 L462.5,77.6 L464.5,77.9 L466.5,78.3 L468.5,78.7 L470.5,79.1 L472.5,79.5 L474.5,79.9 L476.5,80.3 L478.5,80.7 L480.5,81.1 L482.5,81.5 L484.5,81.9 L486.5,82.3 L488.5,82.7 L490.5,83.1 L492.5,83.5 L494.5,83.9 L496.5,84.4 L498.5,84.8 L500.5,85.2 L502.5,85.6 L504.5,86.0 L506.5,86.5 L508.5,86.9 L510.5,87.3 L512.5,87.8 L514.5,88.2 L516.5,88.6 L518.5,89.1 L520.5,89.5 L522.5,90.0 L524.5,90.4 L526.5,90.8 L528.5,91.3 L530.5,91.7 L532.5,92.2 L534.5,92.6 L536.5,93.1 L538.5,93.6 L540.5,94.0 L542.5,94.5 L544.5,95.0 L546.5,95.4 L548.5,95.9 L550.5,96.4 L552.5,96.8 L554.5,97.3 L556.5,97.8 L558.5,98.3 L560.5,98.7 L562.5,99.2 L564.5,99.7 L566.5,100.2 L568.5,100.7 L570.5,101.2 L572.5,101.7 L574.5,102.2 L576.5,102.7 L578.5,103.2 L580.5,103.7 L582.5,104.2 L584.5,104.7 L586.5,105.2 L588.5,105.7 L590.5,106.2 L592.5,106.7 L594.5,107.2 L596.5,107.7 L598.5,108.3 L600.5,108.8 L602.5,109.3 L604.5,109.8 L606.5,110.4 L608.5,110.9 L610.5,111.4 L612.5,111.9 L614.5,112.5 L616.5,113.0 L618.5,113.6 L620.5,114.1 L622.5,114.6 L624.5,115.2 L626.5,115.7 L628.5,116.3 L630.5,116.8 L632.5,117.4 L634.5,117.9 L636.5,118.5 L638.5,119.0 L640.5,119.6 L642.5,120.1 L644.5,120.7 L646.5,121.3 L648.5,121.8 L650.5,122.4 L652.5,122.9 L654.5,123.5 L656.5,124.1 L658.5,124.7 L660.5,125.2 L662.5,125.8 L664.5,126.4 L666.5,127.0 L668.5,127.5 L670.5,128.1 L672.5,128.7 L674.5,129.3 L676.5,129.9 L678.5,130.5 L680.5,131.0 L682.5,131.6 L684.5,132.2 L686.5,132.8 L688.5,133.4 L690.5,134.0 L692.5,134.6 L694.5,135.2 L696.5,135.8 L698.5,136.4 L700.5,137.0 L702.5,137.6 L704.5,138.2 L706.5,138.8 L708.5,139.4 L710.5,140.0 L712.5,140.6 L714.5,141.3 L716.5,141.9 L718.5,142.5 L720.5,143.1 L722.5,143.7 L724.5,144.3 L726.5,145.0 L728.5,145.6 L730.5,146.2 L732.5,146.8 L734.5,147.4 L736.5,148.1 L738.5,148.7 L740.5,149.3 L742.5,150.0 L744.5,150.6 L746.5,151.2 L748.5,151.8 L750.5,152.5 L752.5,153.1 L754.5,153.8 L756.5,154.4 L758.5,155.0 L760.5,155.7 L762.5,156.3 L764.5,156.9 L766.5,157.6 L768.5,158.2 L770.5,158.9 L772.5,159.5 L774.5,160.2 L776.5,160.8 L778.5,161.5 L780.5,162.1 L782.5,162.8 L784.5,163.4 L786.5,164.1 L788.5,164.7 L790.5,165.4 L792.5,166.0 L794.5,166.7 L796.5,167.4 L798.5,168.0 L800.5,168.7 L802.5,169.3 L804.5,170.0 L806.5,170.7 L808.5,171.3 L810.5,172.0 L812.5,172.6 L814.5,173.3 L816.5,174.0 L818.5,174.6 L820.5,175.3 L822.5,176.0 L824.5,176.6 L826.5,177.3 L828.5,178.0 L830.5,178.7 L832.5,179.3 L834.5,180.0 L836.5,180.7 L838.5,181.4 L840.5,182.0 L842.5,182.7 L844.5,183.4 L846.5,184.1 L848.5,184.7 L850.5,185.4 L852.5,186.1 L854.5,186.8 L856.5,187.4 L858.5,188.1 L860.5,188.8 L862.5,189.5 L864.5,190.2 L866.5,190.9 L868.5,191.5 L870.5,192.2 L872.5,192.9 L874.5,193.6 L876.5,194.3 L878.5,195.0 L880.5,195.7 L882.5,196.4 L884.5,197.0 L886.5,197.7 L888.5,198.4 L890.5,199.1 L892.5,199.8 L894.5,200.5 L896.5,201.2 L898.5,201.9 L900.5,202.6 L902.5,203.3 L904.5,204.0 L906.5,204.7 L908.5,205.4 L910.5,206.1 L912.5,206.8 L914.5,207.5 L916.5,208.2 L918.5,208.9 L920.5,209.6 L922.5,210.3 L924.5,211.0 L926.5,211.7 L928.5,212.4 L930.5,213.1 L932.5,213.8 L934.5,214.5 L936.5,215.2 L938.5,215.9 L940.5,216.6 L942.5,217.3 L944.5,218.0 L946.5,218.8 L948.5,219.5 L950.5,220.2 L952.5,220.9 L954.5,221.6 L956.5,222.3 L958.5,223.0 L960.5,223.7 L962.5,224.5 L964.5,225.2 L966.5,225.9 L968.5,226.6 L970.5,227.3 L972.5,228.1 L974.5,228.8 L976.5,229.5 L978.5,230.2 L980.5,230.9 L982.5,231.7 L984.5,232.4 L986.5,233.1 L988.5,233.8 L990.5,234.5 L992.5,235.3 L994.5,236.0 L996.5,236.7 L998.5,237.5 L1000.5,238.2 L1002.5,238.9 L1004.5,239.6 L1006.5,240.4 L1008.5,241.1 L1010.5,241.8 L1012.5,242.6 L1014.5,243.3 L1016.5,244.0 L1018.5,244.8 L1020.5,245.5 L1022.5,246.2 L1024.5,247.0 L1026.5,247.7 L1028.5,248.4 L1030.5,249.2 L1032.5,249.9 L1034.5,250.7 L1036.5,251.4 L1038.5,252.1 L1040.5,252.9 L1042.5,253.6 L1044.5,254.4 L1046.5,255.1 L1048.5,255.8 L1050.5,256.6 L1052.5,257.3 L1054.5,258.1 L1056.5,258.8 L1058.5,259.6 L1060.5,260.3 L1062.5,261.1 L1064.5,261.8 L1066.5,262.6 L1068.5,263.3 L1070.5,264.1 L1072.5,264.8 L1074.5,265.6 L1076.5,266.3 L1078.5,267.1 L1080.5,267.8 L1082.5,268.6 L1084.5,269.3 L1086.5,270.1 L1088.5,270.8 L1090.5,271.6 L1092.5,272.4 L1094.5,273.1 L1096.5,273.9 L1098.5,274.6 L1100.5,275.4 L1102.5,276.1 L1104.5,276.9 L1106.5,277.7 L1108.5,278.4 L1110.5,279.2 L1112.5,280.0 L1114.5,280.7 L1116.5,281.5 L1118.5,282.2 L1120.5,283.0 L1122.5,283.8 L1124.5,284.5 L1126.5,285.3 L1128.5,286.1 L1130.5,286.9 L1132.5,287.6 L1134.5,288.4 L1136.5,289.2 L1138.5,289.9 L1140.5,290.7 L1142.5,291.5 L1144.5,292.2 L1146.5,293.0 L1148.5,293.8 L1150.5,294.6 L1152.5,295.3 L1154.5,296.1 L1156.5,296.9 L1158.5,297.7 L1160.5,298.5 L1162.5,299.2 L1164.5,300.0 L1166.5,300.8 L1168.5,301.6 L1170.5,302.4 L1172.5,303.1 L1174.5,303.9 L1176.5,304.7 L1178.5,305.5 L1180.5,306.3 L1182.5,307.1 L1183.0,307.2" stroke="#45a84e" stroke-width="2.2"/>
<path d="M162.5,43.0 L164.5,43.2 L166.5,43.4 L168.5,43.6 L170.5,43.8 L172.5,44.0 L174.5,44.2 L176.5,44.4 L178.5,44.6 L180.5,44.8 L182.5,45.0 L184.5,45.3 L186.5,45.5 L188.5,45.7 L190.5,45.9 L192.5,46.2 L194.5,46.4 L196.5,46.6 L198.5,46.9 L200.5,47.1 L202.5,47.4 L204.5,47.6 L206.5,47.9 L208.5,48.1 L210.5,48.4 L212.5,48.6 L214.5,48.9 L216.5,49.2 L218.5,49.5 L220.5,49.7 L222.5,50.0 L224.5,50.3 L226.5,50.6 L228.5,50.9 L230.5,51.2 L232.5,51.5 L234.5,51.8 L236.5,52.1 L238.5,52.4 L240.5,52.7 L242.5,53.0 L244.5,53.3 L246.5,53.6 L248.5,54.0 L250.5,54.3 L252.5,54.6 L254.5,55.0 L256.5,55.3 L258.5,55.6 L260.5,56.0 L262.5,56.3 L264.5,56.7 L266.5,57.1 L268.5,57.4 L270.5,57.8 L272.5,58.2 L274.5,58.6 L276.5,58.9 L278.5,59.3 L280.5,59.7 L282.5,60.1 L284.5,60.5 L286.5,60.9 L288.5,61.3 L290.5,61.7 L292.5,62.2 L294.5,62.6 L296.5,63.0 L298.5,63.4 L300.5,63.9 L302.5,64.3 L304.5,64.8 L306.5,65.2 L308.5,65.7 L310.5,66.1 L312.5,66.6 L314.5,67.1 L316.5,67.5 L318.5,68.0 L320.5,68.5 L322.5,69.0 L324.5,69.5 L326.5,70.0 L328.5,70.5 L330.5,71.0 L332.5,71.5 L334.5,72.0 L336.5,72.6 L338.5,73.1 L340.5,73.6 L342.5,74.2 L344.5,74.7 L346.5,75.3 L348.5,75.8 L350.5,76.4 L352.5,77.0 L354.5,77.5 L356.5,78.1 L358.5,78.7 L360.5,79.3 L362.5,79.9 L364.5,80.5 L366.5,81.1 L368.5,81.7 L370.5,82.3 L372.5,83.0 L374.5,83.6 L376.5,84.2 L378.5,84.9 L380.5,85.5 L382.5,86.2 L384.5,86.9 L386.5,87.5 L388.5,88.2 L390.5,88.9 L392.5,89.6 L394.5,90.3 L396.5,91.0 L398.5,91.7 L400.5,92.4 L402.5,93.1 L404.5,93.8 L406.5,94.5 L408.5,95.3 L410.5,96.0 L412.5,96.8 L414.5,97.5 L416.5,98.3 L418.5,99.1 L420.5,99.8 L422.5,100.6 L424.5,101.4 L426.5,102.2 L428.5,103.0 L430.5,103.8 L432.5,104.6 L434.5,105.5 L436.5,106.3 L438.5,107.1 L440.5,108.0 L442.5,108.8 L444.5,109.7 L446.5,110.6 L448.5,111.4 L450.5,112.3 L452.5,113.2 L454.5,114.1 L456.5,115.0 L458.5,115.9 L460.5,116.8 L462.5,117.7 L464.5,118.6 L466.5,119.5 L468.5,120.5 L470.5,121.4 L472.5,122.4 L474.5,123.3 L476.5,124.3 L478.5,125.2 L480.5,126.2 L482.5,127.1 L484.5,128.1 L486.5,129.1 L488.5,130.1 L490.5,131.0 L492.5,132.0 L494.5,133.0 L496.5,134.0 L498.5,135.0 L500.5,136.0 L502.5,137.0 L504.5,138.0 L506.5,139.0 L508.5,140.0 L510.5,141.1 L512.5,142.1 L514.5,143.1 L516.5,144.1 L518.5,145.1 L520.5,146.2 L522.5,147.2 L524.5,148.2 L526.5,149.3 L528.5,150.3 L530.5,151.3 L532.5,152.4 L534.5,153.4 L536.5,154.4 L538.5,155.5 L540.5,156.5 L542.5,157.5 L544.5,158.6 L546.5,159.6 L548.5,160.7 L550.5,161.7 L552.5,162.7 L554.5,163.8 L556.5,164.8 L558.5,165.9 L560.5,166.9 L562.5,167.9 L564.5,169.0 L566.5,170.0 L568.5,171.0 L570.5,172.1 L572.5,173.1 L574.5,174.1 L576.5,175.2 L578.5,176.2 L580.5,177.2 L582.5,178.3 L584.5,179.3 L586.5,180.3 L588.5,181.4 L590.5,182.4 L592.5,183.4 L594.5,184.5 L596.5,185.5 L598.5,186.5 L600.5,187.6 L602.5,188.6 L604.5,189.7 L606.5,190.7 L608.5,191.8 L610.5,192.8 L612.5,193.9 L614.5,194.9 L616.5,196.0 L618.5,197.0 L620.5,198.1 L622.5,199.1 L624.5,200.2 L626.5,201.3 L628.5,202.3 L630.5,203.4 L632.5,204.5 L634.5,205.6 L636.5,206.7 L638.5,207.8 L640.5,208.9 L642.5,210.0 L644.5,211.1 L646.5,212.2 L648.5,213.3 L650.5,214.4 L652.5,215.5 L654.5,216.7 L656.5,217.8 L658.5,219.0 L660.5,220.1 L662.5,221.3 L664.5,222.4 L666.5,223.6 L668.5,224.8 L670.5,225.9 L672.5,227.1 L674.5,228.3 L676.5,229.5 L678.5,230.7 L680.5,231.9 L682.5,233.0 L684.5,234.2 L686.5,235.4 L688.5,236.6 L690.5,237.8 L692.5,239.0 L694.5,240.2 L696.5,241.4 L698.5,242.6 L700.5,243.8 L702.5,244.9 L704.5,246.1 L706.5,247.3 L708.5,248.4 L710.5,249.6 L712.5,250.8 L714.5,251.9 L716.5,253.1 L718.5,254.2 L720.5,255.3 L722.5,256.5 L724.5,257.6 L726.5,258.7 L728.5,259.9 L730.5,261.0 L732.5,262.1 L734.5,263.2 L736.5,264.3 L738.5,265.4 L740.5,266.6 L742.5,267.7 L744.5,268.8 L746.5,269.9 L748.5,271.0 L750.5,272.1 L752.5,273.2 L754.5,274.3 L756.5,275.4 L758.5,276.5 L760.5,277.6 L762.5,278.7 L764.5,279.8 L766.5,280.9 L768.5,282.0 L770.5,283.1 L772.5,284.2 L774.5,285.3 L776.5,286.4 L778.5,287.5 L780.5,288.6 L782.5,289.7 L784.5,290.9 L786.5,292.0 L788.5,293.1 L790.5,294.2 L792.5,295.3 L794.5,296.5 L796.5,297.6 L798.5,298.7 L800.5,299.9 L802.5,301.0 L804.5,302.2 L806.5,303.3 L808.5,304.5 L810.5,305.6 L812.5,306.8 L814.5,307.9 L816.5,309.1 L818.5,310.3 L820.5,311.4 L822.5,312.6 L824.5,313.8 L826.5,315.0 L828.5,316.1 L830.5,317.3 L832.5,318.5 L834.5,319.7 L836.5,320.8 L838.5,322.0 L840.5,323.2 L842.5,324.4 L844.5,325.6 L846.5,326.7 L848.5,327.9 L850.5,329.1 L852.5,330.3 L854.5,331.4 L856.5,332.6 L858.5,333.8 L860.5,335.0 L862.5,336.1 L864.5,337.3 L866.5,338.5 L868.5,339.6 L870.5,340.8 L872.5,341.9 L874.5,343.1 L876.5,344.2 L878.5,345.4 L880.5,346.5 L882.5,347.7 L884.5,348.8 L886.5,349.9 L888.5,351.1 L890.5,352.2 L892.5,353.3 L894.5,354.4 L896.5,355.6 L898.5,356.7 L900.5,357.8 L902.5,358.9 L904.5,360.0 L906.5,361.1 L908.5,362.2 L910.5,363.3 L912.5,364.4 L914.5,365.5 L916.5,366.5 L918.5,367.6 L920.5,368.7 L922.5,369.8 L924.5,370.8 L926.5,371.9 L928.5,372.9 L930.5,374.0 L932.5,375.0 L934.5,376.1 L936.5,377.1 L938.5,378.1 L940.5,379.2 L942.5,380.2 L944.5,381.2 L946.5,382.2 L948.5,383.2 L950.5,384.2 L952.5,385.2 L954.5,386.2 L956.5,387.2 L958.5,388.2 L960.5,389.2 L962.5,390.1 L964.5,391.1 L966.5,392.1 L968.5,393.0 L970.5,394.0 L972.5,394.9 L974.5,395.8 L976.5,396.8 L978.5,397.7 L980.5,398.6 L982.5,399.5 L984.5,400.4 L986.5,401.3 L988.5,402.2 L990.5,403.1 L992.5,404.0 L994.5,404.9 L996.5,405.8 L998.5,406.6 L1000.5,407.5 L1002.5,408.3 L1004.5,409.2 L1006.5,410.0 L1008.5,410.9 L1010.5,411.7 L1012.5,412.5 L1014.5,413.4 L1016.5,414.2 L1018.5,415.0 L1020.5,415.8 L1022.5,416.6 L1024.5,417.4 L1026.5,418.2 L1028.5,418.9 L1030.5,419.7 L1032.5,420.5 L1034.5,421.3 L1036.5,422.0 L1038.5,422.8 L1040.5,423.5 L1042.5,424.2 L1044.5,425.0 L1046.5,425.7 L1048.5,426.4 L1050.5,427.1 L1052.5,427.8 L1054.5,428.5 L1056.5,429.2 L1058.5,429.9 L1060.5,430.6 L1062.5,431.3 L1064.5,431.9 L1066.5,432.6 L1068.5,433.3 L1070.5,433.9 L1072.5,434.6 L1074.5,435.2 L1076.5,435.8 L1078.5,436.5 L1080.5,437.1 L1082.5,437.7 L1084.5,438.3 L1086.5,438.9 L1088.5,439.5 L1090.5,440.1 L1092.5,440.7 L1094.5,441.2 L1096.5,441.8 L1098.5,442.4 L1100.5,442.9 L1102.5,443.5 L1104.5,444.0 L1106.5,444.6 L1108.5,445.1 L1110.5,445.6 L1112.5,446.1 L1114.5,446.7 L1116.5,447.2 L1118.5,447.7 L1120.5,448.1 L1122.5,448.6 L1124.5,449.1 L1126.5,449.6 L1128.5,450.1 L1130.5,450.5 L1132.5,451.0 L1134.5,451.4 L1136.5,451.8 L1138.5,452.3 L1140.5,452.7 L1142.5,453.1 L1144.5,453.5 L1146.5,453.9 L1148.5,454.3 L1150.5,454.7 L1152.5,455.1 L1154.5,455.5 L1156.5,455.9 L1158.5,456.2 L1160.5,456.6 L1162.5,456.9 L1164.5,457.3 L1166.5,457.6 L1168.5,458.0 L1170.5,458.3 L1172.5,458.6 L1174.5,458.9 L1176.5,459.2 L1178.5,459.5 L1180.5,459.8 L1182.5,460.1 L1184.5,460.4 L1186.0,460.6" stroke="#c21c44" stroke-width="2.1"/>
<path d="M162.5,43.0 L164.5,43.7 L166.5,44.5 L168.5,45.2 L170.5,46.0 L172.5,46.7 L174.5,47.5 L176.5,48.2 L178.5,49.0 L180.5,49.7 L182.5,50.4 L184.5,51.2 L186.5,51.9 L188.5,52.7 L190.5,53.4 L192.5,54.2 L194.5,54.9 L196.5,55.7 L198.5,56.4 L200.5,57.2 L202.5,58.0 L204.5,58.7 L206.5,59.5 L208.5,60.2 L210.5,61.0 L212.5,61.8 L214.5,62.6 L216.5,63.3 L218.5,64.1 L220.5,64.9 L222.5,65.7 L224.5,66.5 L226.5,67.3 L228.5,68.1 L230.5,68.9 L232.5,69.7 L234.5,70.5 L236.5,71.3 L238.5,72.1 L240.5,72.9 L242.5,73.7 L244.5,74.6 L246.5,75.4 L248.5,76.2 L250.5,77.1 L252.5,77.9 L254.5,78.8 L256.5,79.7 L258.5,80.5 L260.5,81.4 L262.5,82.3 L264.5,83.1 L266.5,84.0 L268.5,84.9 L270.5,85.8 L272.5,86.7 L274.5,87.6 L276.5,88.4 L278.5,89.3 L280.5,90.2 L282.5,91.1 L284.5,91.9 L286.5,92.8 L288.5,93.6 L290.5,94.5 L292.5,95.3 L294.5,96.2 L296.5,97.0 L298.5,97.8 L300.5,98.6 L302.5,99.4 L304.5,100.2 L306.5,101.0 L308.5,101.7 L310.5,102.5 L312.5,103.2 L314.5,103.9 L316.5,104.6 L318.5,105.3 L320.5,106.0 L322.5,106.6 L324.5,107.2 L326.5,107.8 L328.5,108.4 L330.5,109.0 L332.5,109.5 L334.5,110.1 L336.5,110.6 L338.5,111.0 L340.5,111.5 L342.5,111.9 L344.5,112.3 L346.5,112.7 L348.5,113.0 L350.5,113.4 L352.5,113.7 L354.5,114.0 L356.5,114.2 L358.5,114.5 L360.5,114.7 L362.5,114.9 L364.5,115.1 L366.5,115.3 L368.5,115.4 L370.5,115.6 L372.5,115.7 L374.5,115.8 L376.5,115.9 L378.5,116.0 L380.5,116.1 L382.5,116.1 L384.5,116.1 L386.5,116.2 L388.5,116.2 L390.5,116.2 L392.5,116.2 L394.5,116.2 L396.5,116.1 L398.5,116.1 L400.5,116.1 L402.5,116.0 L404.5,115.9 L406.5,115.9 L408.5,115.8 L410.5,115.7 L412.5,115.6 L414.5,115.5 L416.5,115.4 L418.5,115.3 L420.5,115.2 L422.5,115.1 L424.5,115.0 L426.5,114.9 L428.5,114.8 L430.5,114.7 L432.5,114.6 L434.5,114.5 L436.5,114.4 L438.5,114.3 L440.5,114.2 L442.5,114.1 L444.5,114.0 L446.5,113.9 L448.5,113.8 L450.5,113.7 L452.5,113.6 L454.5,113.5 L456.5,113.4 L458.5,113.3 L460.5,113.2 L462.5,113.1 L464.5,113.0 L466.5,112.9 L468.5,112.8 L470.5,112.7 L472.5,112.7 L474.5,112.6 L476.5,112.5 L478.5,112.4 L480.5,112.4 L482.5,112.3 L484.5,112.2 L486.5,112.2 L488.5,112.1 L490.5,112.0 L492.5,112.0 L494.5,111.9 L496.5,111.9 L498.5,111.8 L500.5,111.8 L502.5,111.8 L504.5,111.7 L506.5,111.7 L508.5,111.7 L510.5,111.7 L512.5,111.6 L514.5,111.6 L516.5,111.6 L518.5,111.6 L520.5,111.6 L522.5,111.6 L524.5,111.6 L526.5,111.6 L528.5,111.7 L530.5,111.7 L532.5,111.7 L534.5,111.7 L536.5,111.8 L538.5,111.8 L540.5,111.8 L542.5,111.9 L544.5,111.9 L546.5,112.0 L548.5,112.0 L550.5,112.1 L552.5,112.2 L554.5,112.2 L556.5,112.3 L558.5,112.4 L560.5,112.4 L562.5,112.5 L564.5,112.6 L566.5,112.7 L568.5,112.8 L570.5,112.9 L572.5,113.0 L574.5,113.1 L576.5,113.2 L578.5,113.3 L580.5,113.4 L582.5,113.5 L584.5,113.6 L586.5,113.7 L588.5,113.8 L590.5,113.9 L592.5,114.1 L594.5,114.2 L596.5,114.3 L598.5,114.4 L600.5,114.6 L602.5,114.7 L604.5,114.9 L606.5,115.0 L608.5,115.1 L610.5,115.3 L612.5,115.4 L614.5,115.6 L616.5,115.7 L618.5,115.9 L620.5,116.0 L622.5,116.2 L624.5,116.4 L626.5,116.5 L628.5,116.7 L630.5,116.8 L632.5,117.0 L634.5,117.2 L636.5,117.4 L638.5,117.5 L640.5,117.7 L642.5,117.9 L644.5,118.0 L646.5,118.2 L648.5,118.4 L650.5,118.6 L652.5,118.8 L654.5,119.0 L656.5,119.1 L658.5,119.3 L660.5,119.5 L662.5,119.7 L664.5,119.9 L666.5,120.1 L668.5,120.3 L670.5,120.5 L672.5,120.7 L674.5,120.9 L676.5,121.1 L678.5,121.3 L680.5,121.5 L682.5,121.7 L684.5,121.9 L686.5,122.1 L688.5,122.3 L690.5,122.5 L692.5,122.7 L694.5,122.9 L696.5,123.1 L698.5,123.3 L700.5,123.5 L702.5,123.7 L704.5,123.9 L706.5,124.1 L708.5,124.3 L710.5,124.5 L712.5,124.7 L714.5,124.9 L716.5,125.1 L718.5,125.3 L720.5,125.5 L722.5,125.8 L724.5,126.0 L726.5,126.2 L728.5,126.4 L730.5,126.6 L732.5,126.8 L734.5,127.0 L736.5,127.3 L738.5,127.5 L740.5,127.7 L742.5,127.9 L744.5,128.1 L746.5,128.3 L748.5,128.6 L750.5,128.8 L752.5,129.0 L754.5,129.2 L756.5,129.4 L758.5,129.7 L760.5,129.9 L762.5,130.1 L764.5,130.3 L766.5,130.6 L768.5,130.8 L770.5,131.0 L772.5,131.2 L774.5,131.5 L776.5,131.7 L778.5,131.9 L780.5,132.2 L782.5,132.4 L784.5,132.6 L786.5,132.9 L788.5,133.1 L790.5,133.3 L792.5,133.6 L794.5,133.8 L796.5,134.0 L798.5,134.3 L800.5,134.5 L802.5,134.7 L804.5,135.0 L806.5,135.2 L808.5,135.5 L810.5,135.7 L812.5,135.9 L814.5,136.2 L816.5,136.4 L818.5,136.7 L820.5,136.9 L822.5,137.2 L824.5,137.4 L826.5,137.7 L828.5,137.9 L830.5,138.2 L832.5,138.4 L834.5,138.7 L836.5,138.9 L838.5,139.2 L840.5,139.4 L842.5,139.7 L844.5,139.9 L846.5,140.2 L848.5,140.4 L850.5,140.7 L852.5,141.0 L854.5,141.2 L856.5,141.5 L858.5,141.7 L860.5,142.0 L862.5,142.3 L864.5,142.5 L866.5,142.8 L868.5,143.1 L870.5,143.3 L872.5,143.6 L874.5,143.9 L876.5,144.1 L878.5,144.4 L880.5,144.7 L882.5,145.0 L884.5,145.2 L886.5,145.5 L888.5,145.8 L890.5,146.1 L892.5,146.3 L894.5,146.6 L896.5,146.9 L898.5,147.2 L900.5,147.5 L902.5,147.7 L904.5,148.0 L906.5,148.3 L908.5,148.6 L910.5,148.9 L912.5,149.2 L914.5,149.4 L916.5,149.7 L918.5,150.0 L920.5,150.3 L922.5,150.6 L924.5,150.9 L926.5,151.2 L928.5,151.5 L930.5,151.8 L932.5,152.1 L934.5,152.4 L936.5,152.7 L938.5,153.0 L940.5,153.3 L942.5,153.6 L944.5,153.9 L946.5,154.2 L948.5,154.5 L950.5,154.8 L952.5,155.1 L954.5,155.4 L956.5,155.7 L958.5,156.0 L960.5,156.4 L962.5,156.7 L964.5,157.0 L966.5,157.3 L968.5,157.6 L970.5,157.9 L972.5,158.2 L974.5,158.6 L976.5,158.9 L978.5,159.2 L980.5,159.5 L982.5,159.9 L984.5,160.2 L986.5,160.5 L988.5,160.8 L990.5,161.2 L992.5,161.5 L994.5,161.8 L996.5,162.2 L998.5,162.5 L1000.5,162.8 L1002.5,163.2 L1004.5,163.5 L1006.5,163.8 L1008.5,164.2 L1010.5,164.5 L1012.5,164.9 L1014.5,165.2 L1016.5,165.5 L1018.5,165.9 L1020.5,166.2 L1022.5,166.6 L1024.5,166.9 L1026.5,167.3 L1028.5,167.6 L1030.5,168.0 L1032.5,168.3 L1034.5,168.7 L1036.5,169.0 L1038.5,169.4 L1040.5,169.8 L1042.5,170.1 L1044.5,170.5 L1046.5,170.8 L1048.5,171.2 L1050.5,171.6 L1052.5,171.9 L1054.5,172.3 L1056.5,172.7 L1058.5,173.0 L1060.5,173.4 L1062.5,173.8 L1064.5,174.1 L1066.5,174.5 L1068.5,174.9 L1070.5,175.3 L1072.5,175.7 L1074.5,176.0 L1076.5,176.4 L1078.5,176.8 L1080.5,177.2 L1082.5,177.6 L1084.5,177.9 L1086.5,178.3 L1088.5,178.7 L1090.5,179.1 L1092.5,179.5 L1094.5,179.9 L1096.5,180.3 L1098.5,180.7 L1100.5,181.1 L1102.5,181.5 L1104.5,181.9 L1106.5,182.3 L1108.5,182.7 L1110.5,183.1 L1112.5,183.5 L1114.5,183.9 L1116.5,184.3 L1118.5,184.7 L1120.5,185.1 L1122.5,185.5 L1124.5,186.0 L1126.5,186.4 L1128.5,186.8 L1130.5,187.2 L1132.5,187.6 L1134.5,188.0 L1136.5,188.5 L1138.5,188.9 L1140.5,189.3 L1142.5,189.7 L1144.5,190.2 L1146.5,190.6 L1148.5,191.0 L1150.5,191.5 L1152.5,191.9 L1154.5,192.3 L1156.5,192.8 L1158.5,193.2 L1160.5,193.6 L1162.5,194.1 L1164.5,194.5 L1166.5,195.0 L1168.5,195.4 L1170.5,195.9 L1172.5,196.3 L1174.5,196.7 L1176.5,197.2 L1178.5,197.7 L1180.5,198.1 L1182.5,198.6 L1184.5,199.0 L1186.0,199.4" stroke="#80288f" stroke-width="1.4" stroke-dasharray="1.4 2.4"/>
<g fill="none" stroke="#80288f" stroke-width="2.1"><circle cx="162.5" cy="43.0" r="2.75"/><circle cx="172.8" cy="46.8" r="2.75"/><circle cx="183.2" cy="50.7" r="2.75"/><circle cx="193.5" cy="54.6" r="2.75"/><circle cx="203.9" cy="58.5" r="2.75"/><circle cx="214.2" cy="62.4" r="2.75"/><circle cx="224.5" cy="66.5" r="2.75"/><circle cx="234.9" cy="70.6" r="2.75"/><circle cx="245.2" cy="74.9" r="2.75"/><circle cx="255.5" cy="79.2" r="2.75"/><circle cx="265.9" cy="83.8" r="2.75"/><circle cx="276.2" cy="88.3" r="2.75"/><circle cx="286.6" cy="92.8" r="2.75"/><circle cx="296.9" cy="97.2" r="2.75"/><circle cx="307.2" cy="101.3" r="2.75"/><circle cx="317.6" cy="105.0" r="2.75"/><circle cx="327.9" cy="108.3" r="2.75"/><circle cx="338.3" cy="111.0" r="2.75"/><circle cx="348.6" cy="113.0" r="2.75"/><circle cx="358.9" cy="114.5" r="2.75"/><circle cx="369.3" cy="115.5" r="2.75"/><circle cx="379.6" cy="116.0" r="2.75"/><circle cx="389.9" cy="116.2" r="2.75"/><circle cx="400.3" cy="116.1" r="2.75"/><circle cx="410.6" cy="115.7" r="2.75"/><circle cx="421.0" cy="115.2" r="2.75"/><circle cx="431.3" cy="114.7" r="2.75"/><circle cx="441.6" cy="114.1" r="2.75"/><circle cx="452.0" cy="113.6" r="2.75"/><circle cx="462.3" cy="113.1" r="2.75"/><circle cx="472.7" cy="112.7" r="2.75"/><circle cx="483.0" cy="112.3" r="2.75"/><circle cx="493.3" cy="112.0" r="2.75"/><circle cx="503.7" cy="111.8" r="2.75"/><circle cx="514.0" cy="111.6" r="2.75"/><circle cx="524.3" cy="111.6" r="2.75"/><circle cx="534.7" cy="111.7" r="2.75"/><circle cx="545.0" cy="111.9" r="2.75"/><circle cx="555.4" cy="112.3" r="2.75"/><circle cx="565.7" cy="112.7" r="2.75"/><circle cx="576.0" cy="113.1" r="2.75"/><circle cx="586.4" cy="113.7" r="2.75"/><circle cx="596.7" cy="114.3" r="2.75"/><circle cx="607.1" cy="115.0" r="2.75"/><circle cx="617.4" cy="115.8" r="2.75"/><circle cx="627.7" cy="116.6" r="2.75"/><circle cx="638.1" cy="117.5" r="2.75"/><circle cx="648.4" cy="118.4" r="2.75"/><circle cx="658.7" cy="119.4" r="2.75"/><circle cx="669.1" cy="120.3" r="2.75"/><circle cx="679.4" cy="121.4" r="2.75"/><circle cx="689.8" cy="122.4" r="2.75"/><circle cx="700.1" cy="123.4" r="2.75"/><circle cx="710.4" cy="124.5" r="2.75"/><circle cx="720.8" cy="125.6" r="2.75"/><circle cx="731.1" cy="126.7" r="2.75"/><circle cx="741.4" cy="127.8" r="2.75"/><circle cx="751.8" cy="128.9" r="2.75"/><circle cx="762.1" cy="130.1" r="2.75"/><circle cx="772.5" cy="131.2" r="2.75"/><circle cx="782.8" cy="132.4" r="2.75"/><circle cx="793.1" cy="133.6" r="2.75"/><circle cx="803.5" cy="134.9" r="2.75"/><circle cx="813.8" cy="136.1" r="2.75"/><circle cx="824.2" cy="137.4" r="2.75"/><circle cx="834.5" cy="138.7" r="2.75"/><circle cx="844.8" cy="140.0" r="2.75"/><circle cx="855.2" cy="141.3" r="2.75"/><circle cx="865.5" cy="142.7" r="2.75"/><circle cx="875.8" cy="144.1" r="2.75"/><circle cx="886.2" cy="145.5" r="2.75"/><circle cx="896.5" cy="146.9" r="2.75"/><circle cx="906.9" cy="148.4" r="2.75"/><circle cx="917.2" cy="149.8" r="2.75"/><circle cx="927.5" cy="151.4" r="2.75"/><circle cx="937.9" cy="152.9" r="2.75"/><circle cx="948.2" cy="154.5" r="2.75"/><circle cx="958.6" cy="156.1" r="2.75"/><circle cx="968.9" cy="157.7" r="2.75"/><circle cx="979.2" cy="159.3" r="2.75"/><circle cx="989.6" cy="161.0" r="2.75"/><circle cx="999.9" cy="162.7" r="2.75"/><circle cx="1010.2" cy="164.5" r="2.75"/><circle cx="1020.6" cy="166.2" r="2.75"/><circle cx="1030.9" cy="168.0" r="2.75"/><circle cx="1041.3" cy="169.9" r="2.75"/><circle cx="1051.6" cy="171.8" r="2.75"/><circle cx="1061.9" cy="173.7" r="2.75"/><circle cx="1072.3" cy="175.6" r="2.75"/><circle cx="1082.6" cy="177.6" r="2.75"/><circle cx="1093.0" cy="179.6" r="2.75"/><circle cx="1103.3" cy="181.6" r="2.75"/><circle cx="1113.6" cy="183.7" r="2.75"/><circle cx="1124.0" cy="185.8" r="2.75"/><circle cx="1134.3" cy="188.0" r="2.75"/><circle cx="1144.6" cy="190.2" r="2.75"/><circle cx="1155.0" cy="192.4" r="2.75"/><circle cx="1165.3" cy="194.7" r="2.75"/><circle cx="1175.7" cy="197.0" r="2.75"/><circle cx="1186.0" cy="199.4" r="2.75"/></g>
<path d="M162.5,43.0 L164.5,43.2 L166.5,43.4 L168.5,43.6 L170.5,43.8 L172.5,44.0 L174.5,44.2 L176.5,44.4 L178.5,44.6 L180.5,44.8 L182.5,45.0 L184.5,45.2 L186.5,45.4 L188.5,45.7 L190.5,45.9 L192.5,46.1 L194.5,46.4 L196.5,46.6 L198.5,46.8 L200.5,47.1 L202.5,47.3 L204.5,47.6 L206.5,47.8 L208.5,48.1 L210.5,48.3 L212.5,48.6 L214.5,48.9 L216.5,49.1 L218.5,49.4 L220.5,49.7 L222.5,50.0 L224.5,50.3 L226.5,50.5 L228.5,50.8 L230.5,51.1 L232.5,51.4 L234.5,51.7 L236.5,52.0 L238.5,52.4 L240.5,52.7 L242.5,53.0 L244.5,53.3 L246.5,53.6 L248.5,54.0 L250.5,54.3 L252.5,54.6 L254.5,55.0 L256.5,55.3 L258.5,55.7 L260.5,56.0 L262.5,56.4 L264.5,56.8 L266.5,57.1 L268.5,57.5 L270.5,57.9 L272.5,58.3 L274.5,58.6 L276.5,59.0 L278.5,59.4 L280.5,59.8 L282.5,60.2 L284.5,60.6 L286.5,61.0 L288.5,61.5 L290.5,61.9 L292.5,62.3 L294.5,62.7 L296.5,63.2 L298.5,63.6 L300.5,64.0 L302.5,64.5 L304.5,64.9 L306.5,65.4 L308.5,65.9 L310.5,66.3 L312.5,66.8 L314.5,67.3 L316.5,67.8 L318.5,68.2 L320.5,68.7 L322.5,69.2 L324.5,69.7 L326.5,70.2 L328.5,70.8 L330.5,71.3 L332.5,71.8 L334.5,72.3 L336.5,72.9 L338.5,73.4 L340.5,73.9 L342.5,74.5 L344.5,75.0 L346.5,75.6 L348.5,76.2 L350.5,76.7 L352.5,77.3 L354.5,77.9 L356.5,78.5 L358.5,79.1 L360.5,79.7 L362.5,80.3 L364.5,80.9 L366.5,81.5 L368.5,82.1 L370.5,82.7 L372.5,83.4 L374.5,84.0 L376.5,84.7 L378.5,85.3 L380.5,86.0 L382.5,86.6 L384.5,87.3 L386.5,88.0 L388.5,88.6 L390.5,89.3 L392.5,90.0 L394.5,90.7 L396.5,91.4 L398.5,92.1 L400.5,92.8 L402.5,93.6 L404.5,94.3 L406.5,95.0 L408.5,95.8 L410.5,96.5 L412.5,97.2 L414.5,98.0 L416.5,98.8 L418.5,99.5 L420.5,100.3 L422.5,101.1 L424.5,101.9 L426.5,102.7 L428.5,103.5 L430.5,104.3 L432.5,105.1 L434.5,105.9 L436.5,106.7 L438.5,107.5 L440.5,108.4 L442.5,109.2 L444.5,110.0 L446.5,110.9 L448.5,111.8 L450.5,112.6 L452.5,113.5 L454.5,114.4 L456.5,115.2 L458.5,116.1 L460.5,117.0 L462.5,117.9 L464.5,118.8 L466.5,119.7 L468.5,120.6 L470.5,121.5 L472.5,122.5 L474.5,123.4 L476.5,124.3 L478.5,125.3 L480.5,126.2 L482.5,127.2 L484.5,128.1 L486.5,129.1 L488.5,130.1 L490.5,131.1 L492.5,132.0 L494.5,133.0 L496.5,134.0 L498.5,135.0 L500.5,136.0 L502.5,137.0 L504.5,138.0 L506.5,139.1 L508.5,140.1 L510.5,141.1 L512.5,142.2 L514.5,143.2 L516.5,144.3 L518.5,145.3 L520.5,146.4 L522.5,147.5 L524.5,148.5 L526.5,149.6 L528.5,150.7 L530.5,151.8 L532.5,152.9 L534.5,154.0 L536.5,155.2 L538.5,156.3 L540.5,157.4 L542.5,158.6 L544.5,159.7 L546.5,160.9 L548.5,162.1 L550.5,163.3 L552.5,164.5 L554.5,165.7 L556.5,166.9 L558.5,168.1 L560.5,169.3 L562.5,170.6 L564.5,171.8 L566.5,173.1 L568.5,174.3 L570.5,175.6 L572.5,176.9 L574.5,178.2 L576.5,179.5 L578.5,180.9 L580.5,182.2 L582.5,183.5 L584.5,184.9 L586.5,186.3 L588.5,187.7 L590.5,189.1 L592.5,190.5 L594.5,191.9 L596.5,193.3 L598.5,194.8 L600.5,196.2 L602.5,197.7 L604.5,199.2 L606.5,200.7 L608.5,202.2 L610.5,203.7 L612.5,205.2 L614.5,206.8 L616.5,208.3 L618.5,209.9 L620.5,211.5 L622.5,213.1 L624.5,214.7 L626.5,216.3 L628.5,217.9 L630.5,219.5 L632.5,221.2 L634.5,222.8 L636.5,224.4 L638.5,226.1 L640.5,227.8 L642.5,229.4 L644.5,231.1 L646.5,232.8 L648.5,234.4 L650.5,236.1 L652.5,237.8 L654.5,239.5 L656.5,241.1 L658.5,242.8 L660.5,244.5 L662.5,246.2 L664.5,247.9 L666.5,249.6 L668.5,251.2 L670.5,252.9 L672.5,254.6 L674.5,256.3 L676.5,257.9 L678.5,259.6 L680.5,261.2 L682.5,262.9 L684.5,264.5 L686.5,266.2 L688.5,267.8 L690.5,269.4 L692.5,271.1 L694.5,272.7 L696.5,274.3 L698.5,275.9 L700.5,277.4 L702.5,279.0 L704.5,280.6 L706.5,282.1 L708.5,283.7 L710.5,285.2 L712.5,286.7 L714.5,288.2 L716.5,289.7 L718.5,291.1 L720.5,292.6 L722.5,294.0 L724.5,295.5 L726.5,296.9 L728.5,298.3 L730.5,299.6 L732.5,301.0 L734.5,302.3 L736.5,303.7 L738.5,305.0 L740.5,306.3 L742.5,307.6 L744.5,308.8 L746.5,310.1 L748.5,311.3 L750.5,312.5 L752.5,313.7 L754.5,314.9 L756.5,316.1 L758.5,317.2 L760.5,318.4 L762.5,319.5 L764.5,320.6 L766.5,321.7 L768.5,322.7 L770.5,323.8 L772.5,324.8 L774.5,325.8 L776.5,326.8 L778.5,327.8 L780.5,328.8 L782.5,329.7 L784.5,330.7 L786.5,331.6 L788.5,332.5 L790.5,333.4 L792.5,334.3 L794.5,335.1 L796.5,336.0 L798.5,336.8 L800.5,337.6 L802.5,338.4 L804.5,339.1 L806.5,339.9 L808.5,340.6 L810.5,341.3 L812.5,342.0 L814.5,342.7 L816.5,343.4 L818.5,344.0 L820.5,344.7 L822.5,345.3 L824.5,345.9 L826.5,346.5 L828.5,347.0 L830.5,347.6 L832.5,348.1 L834.5,348.6 L836.5,349.1 L838.5,349.6 L840.5,350.1 L842.5,350.5 L844.5,350.9 L846.5,351.3 L848.5,351.7 L850.5,352.1 L852.5,352.5 L854.5,352.8 L856.5,353.1 L858.5,353.5 L860.5,353.8 L862.5,354.1 L864.5,354.3 L866.5,354.6 L868.5,354.8 L870.5,355.1 L872.5,355.3 L874.5,355.5 L876.5,355.7 L878.5,355.9 L880.5,356.0 L882.5,356.2 L884.5,356.3 L886.5,356.5 L888.5,356.6 L890.5,356.7 L892.5,356.8 L894.5,356.9 L896.5,357.0 L898.5,357.0 L900.5,357.1 L902.5,357.1 L904.5,357.2 L906.5,357.2 L908.5,357.2 L910.5,357.2 L912.5,357.2 L914.5,357.2 L916.5,357.2 L918.5,357.2 L920.5,357.2 L922.5,357.1 L924.5,357.1 L926.5,357.0 L928.5,357.0 L930.5,356.9 L932.5,356.8 L934.5,356.8 L936.5,356.7 L938.5,356.6 L940.5,356.5 L942.5,356.4 L944.5,356.3 L946.5,356.2 L948.5,356.1 L950.5,356.0 L952.5,355.8 L954.5,355.7 L956.5,355.6 L958.5,355.5 L960.5,355.3 L962.5,355.2 L964.5,355.0 L966.5,354.9 L968.5,354.8 L970.5,354.6 L972.5,354.5 L974.5,354.3 L976.5,354.2 L978.5,354.0 L980.5,353.9 L982.5,353.7 L984.5,353.5 L986.5,353.4 L988.5,353.2 L990.5,353.1 L992.5,352.9 L994.5,352.8 L996.5,352.6 L998.5,352.5 L1000.5,352.3 L1002.5,352.2 L1004.5,352.1 L1006.5,351.9 L1008.5,351.8 L1010.5,351.6 L1012.5,351.5 L1014.5,351.4 L1016.5,351.3 L1018.5,351.1 L1020.5,351.0 L1022.5,350.9 L1024.5,350.8 L1026.5,350.7 L1028.5,350.6 L1030.5,350.5 L1032.5,350.4 L1034.5,350.3 L1036.5,350.3 L1038.5,350.2 L1040.5,350.1 L1042.5,350.1 L1044.5,350.0 L1046.5,350.0 L1048.5,349.9 L1050.5,349.9 L1052.5,349.9 L1054.5,349.9 L1056.5,349.9 L1058.5,349.9 L1060.5,349.9 L1062.5,349.9 L1064.5,349.9 L1066.5,350.0 L1068.5,350.0 L1070.5,350.1 L1072.5,350.1 L1074.5,350.2 L1076.5,350.3 L1078.5,350.4 L1080.5,350.5 L1082.5,350.6 L1084.5,350.8 L1086.5,350.9 L1088.5,351.1 L1090.5,351.2 L1092.5,351.4 L1094.5,351.6 L1096.5,351.8 L1098.5,352.0 L1100.5,352.3 L1102.5,352.5 L1104.5,352.8 L1106.5,353.0 L1108.5,353.3 L1110.5,353.6 L1112.5,354.0 L1114.5,354.3 L1116.5,354.6 L1118.5,355.0 L1120.5,355.4 L1122.5,355.8 L1124.5,356.2 L1126.5,356.6 L1128.5,357.0 L1130.5,357.5 L1132.5,358.0 L1134.5,358.5 L1136.5,359.0 L1138.5,359.5 L1140.5,360.1 L1142.5,360.6 L1144.5,361.2 L1146.5,361.8 L1148.5,362.4 L1150.5,363.1 L1152.5,363.7 L1154.5,364.4 L1156.5,365.1 L1158.5,365.8 L1160.5,366.6 L1162.5,367.3 L1164.5,368.1 L1166.5,368.9 L1168.5,369.7 L1170.5,370.6 L1172.5,371.5 L1174.5,372.3 L1176.5,373.3 L1178.5,374.2 L1180.5,375.1 L1182.5,376.1 L1184.5,377.1 L1186.5,378.1" stroke="#141414" stroke-width="1.3"/>
<path d="M158.8,43.0h7.4M162.5,39.3v7.4M169.1,44.0h7.4M172.8,40.3v7.4M179.5,45.1h7.4M183.2,41.4v7.4M189.8,46.2h7.4M193.5,42.5v7.4M200.2,47.5h7.4M203.9,43.8v7.4M210.5,48.8h7.4M214.2,45.1v7.4M220.8,50.3h7.4M224.5,46.6v7.4M231.2,51.8h7.4M234.9,48.1v7.4M241.5,53.4h7.4M245.2,49.7v7.4M251.8,55.2h7.4M255.5,51.5v7.4M262.2,57.0h7.4M265.9,53.3v7.4M272.5,59.0h7.4M276.2,55.3v7.4M282.9,61.0h7.4M286.6,57.3v7.4M293.2,63.2h7.4M296.9,59.5v7.4M303.5,65.6h7.4M307.2,61.9v7.4M313.9,68.0h7.4M317.6,64.3v7.4M324.2,70.6h7.4M327.9,66.9v7.4M334.6,73.3h7.4M338.3,69.6v7.4M344.9,76.2h7.4M348.6,72.5v7.4M355.2,79.2h7.4M358.9,75.5v7.4M365.6,82.4h7.4M369.3,78.7v7.4M375.9,85.7h7.4M379.6,82.0v7.4M386.2,89.1h7.4M389.9,85.4v7.4M396.6,92.8h7.4M400.3,89.1v7.4M406.9,96.5h7.4M410.6,92.8v7.4M417.3,100.5h7.4M421.0,96.8v7.4M427.6,104.6h7.4M431.3,100.9v7.4M437.9,108.8h7.4M441.6,105.1v7.4M448.3,113.3h7.4M452.0,109.6v7.4M458.6,117.8h7.4M462.3,114.1v7.4M469.0,122.5h7.4M472.7,118.8v7.4M479.3,127.4h7.4M483.0,123.7v7.4M489.6,132.4h7.4M493.3,128.7v7.4M500.0,137.6h7.4M503.7,133.9v7.4M510.3,142.9h7.4M514.0,139.2v7.4M520.6,148.4h7.4M524.3,144.7v7.4M531.0,154.1h7.4M534.7,150.4v7.4M541.3,160.0h7.4M545.0,156.3v7.4M551.7,166.2h7.4M555.4,162.5v7.4M562.0,172.6h7.4M565.7,168.9v7.4M572.3,179.2h7.4M576.0,175.5v7.4M582.7,186.2h7.4M586.4,182.5v7.4M593.0,193.5h7.4M596.7,189.8v7.4M603.4,201.1h7.4M607.1,197.4v7.4M613.7,209.0h7.4M617.4,205.3v7.4M624.0,217.3h7.4M627.7,213.6v7.4M634.4,225.7h7.4M638.1,222.0v7.4M644.7,234.3h7.4M648.4,230.6v7.4M655.0,243.0h7.4M658.7,239.3v7.4M665.4,251.7h7.4M669.1,248.0v7.4M675.7,260.4h7.4M679.4,256.7v7.4M686.1,268.8h7.4M689.8,265.1v7.4M696.4,277.1h7.4M700.1,273.4v7.4M706.7,285.1h7.4M710.4,281.4v7.4M717.1,292.8h7.4M720.8,289.1v7.4M727.4,300.1h7.4M731.1,296.4v7.4M737.7,306.9h7.4M741.4,303.2v7.4M748.1,313.3h7.4M751.8,309.6v7.4M758.4,319.3h7.4M762.1,315.6v7.4M768.8,324.8h7.4M772.5,321.1v7.4M779.1,329.9h7.4M782.8,326.2v7.4M789.4,334.5h7.4M793.1,330.8v7.4M799.8,338.7h7.4M803.5,335.0v7.4M810.1,342.5h7.4M813.8,338.8v7.4M820.5,345.8h7.4M824.2,342.1v7.4M830.8,348.6h7.4M834.5,344.9v7.4M841.1,351.0h7.4M844.8,347.3v7.4M851.5,352.9h7.4M855.2,349.2v7.4M861.8,354.5h7.4M865.5,350.8v7.4M872.1,355.6h7.4M875.8,351.9v7.4M882.5,356.4h7.4M886.2,352.7v7.4M892.8,357.0h7.4M896.5,353.3v7.4M903.2,357.2h7.4M906.9,353.5v7.4M913.5,357.2h7.4M917.2,353.5v7.4M923.8,357.0h7.4M927.5,353.3v7.4M934.2,356.6h7.4M937.9,352.9v7.4M944.5,356.1h7.4M948.2,352.4v7.4M954.9,355.4h7.4M958.6,351.7v7.4M965.2,354.7h7.4M968.9,351.0v7.4M975.5,354.0h7.4M979.2,350.3v7.4M985.9,353.2h7.4M989.6,349.5v7.4M996.2,352.4h7.4M999.9,348.7v7.4M1006.5,351.7h7.4M1010.2,348.0v7.4M1016.9,351.0h7.4M1020.6,347.3v7.4M1027.2,350.5h7.4M1030.9,346.8v7.4M1037.6,350.1h7.4M1041.3,346.4v7.4M1047.9,349.9h7.4M1051.6,346.2v7.4M1058.2,349.9h7.4M1061.9,346.2v7.4M1068.6,350.1h7.4M1072.3,346.4v7.4M1078.9,350.6h7.4M1082.6,346.9v7.4M1089.3,351.5h7.4M1093.0,347.8v7.4M1099.6,352.6h7.4M1103.3,348.9v7.4M1109.9,354.1h7.4M1113.6,350.4v7.4M1120.3,356.1h7.4M1124.0,352.4v7.4M1130.6,358.4h7.4M1134.3,354.7v7.4M1140.9,361.3h7.4M1144.6,357.6v7.4M1151.3,364.6h7.4M1155.0,360.9v7.4M1161.6,368.4h7.4M1165.3,364.7v7.4M1172.0,372.9h7.4M1175.7,369.2v7.4M1182.3,377.9h7.4M1186.0,374.2v7.4" stroke="#141414" stroke-width="1.7"/>
</g>
<path d="M162.6,33 V524.5 H1187" stroke="#1a1a1a" stroke-width="2.8" fill="none"/><path d="M163,32.4 H1186.5 V524.5" stroke="#1a1a1a" stroke-width="2.6" fill="none"/><path d="M164,453.6h13M164,383.9h13M164,314.3h13M164,244.6h13M164,174.9h13M164,105.2h13M367.2,523v-12M571.9,523v-12M776.6,523v-12M981.3,523v-12" stroke="#1a1a1a" stroke-width="2.6" fill="none"/>
<g opacity="0.995">
<text transform="translate(100.28,537.00) scale(0.72,1)" x="-14.78" y="0">1</text><text x="113.50" y="537.00">7</text><text transform="translate(100.28,466.70) scale(0.72,1)" x="-14.78" y="0">1</text><text x="113.50" y="466.70">8</text><text transform="translate(100.28,396.60) scale(0.72,1)" x="-14.78" y="0">1</text><text x="113.50" y="396.60">9</text><text x="85.50" y="327.40">2</text><text x="113.50" y="327.40">0</text><text x="85.50" y="258.40">2</text><text transform="translate(128.28,258.40) scale(0.72,1)" x="-14.78" y="0">1</text><text x="85.50" y="188.60">2</text><text x="113.50" y="188.60">2</text><text x="85.50" y="118.70">2</text><text x="113.50" y="118.70">3</text><text x="85.50" y="50.00">2</text><text x="113.50" y="50.00">4</text><text x="148.50" y="584.30">0</text><text x="332.20" y="584.30">0</text><text x="360.20" y="584.30">.</text><text transform="translate(388.98,584.30) scale(0.72,1)" x="-14.78" y="0">1</text><text x="536.90" y="584.30">0</text><text x="564.90" y="584.30">.</text><text x="578.90" y="584.30">2</text><text x="741.60" y="584.30">0</text><text x="769.60" y="584.30">.</text><text x="783.60" y="584.30">3</text><text x="946.30" y="584.30">0</text><text x="974.30" y="584.30">.</text><text x="988.30" y="584.30">4</text><text x="1151.00" y="584.30">0</text><text x="1179.00" y="584.30">.</text><text x="1193.00" y="584.30">5</text><text x="674.2" y="653" text-anchor="middle">Tilt/(°)</text><text transform="translate(60.4,279.2) rotate(-90)" text-anchor="middle">PSNR</text>
<path d="M1218.0,108.7H1250.9" stroke="#2e2670" stroke-width="2.2" stroke-dasharray="13.3 6" fill="none"/><text transform="translate(1267.78,125.90) scale(0.72,1)" x="-14.78" y="0">1</text><text font-style="italic" transform="translate(1280.50,125.90) scale(1.17,1)">X</text><path d="M1217,157.6H1251.5" stroke="#151515" stroke-width="2" fill="none"/><text transform="translate(1267.78,174.40) scale(0.72,1)" x="-14.78" y="0">1</text><text font-style="italic" transform="translate(1283.80,174.40) scale(0.95,1)">Y</text><path d="M1217,206.5H1251.5" stroke="#a81c3c" stroke-width="3" fill="none"/><text x="1253.00" y="222.90">2</text><text font-style="italic" transform="translate(1280.50,222.90) scale(1.17,1)">X</text><path d="M1217,255.4H1251.5" stroke="#45a84e" stroke-width="3" fill="none"/><text x="1253.00" y="271.40">2</text><text font-style="italic" transform="translate(1283.80,271.40) scale(0.95,1)">Y</text><path d="M1217,304.3H1251.5" stroke="#283282" stroke-width="3" fill="none"/><text x="1253.00" y="319.90">3</text><text font-style="italic" transform="translate(1280.50,319.90) scale(1.17,1)">X</text><path d="M1217,353.2H1251.5" stroke="#7a2a9c" stroke-width="3" fill="none"/><text x="1253.00" y="368.40">3</text><text font-style="italic" transform="translate(1283.80,368.40) scale(0.95,1)">Y</text><path d="M1217,402.1H1251.5" stroke="#22224e" stroke-width="2" stroke-dasharray="1.2 3.7" fill="none"/><text x="1253.00" y="416.90">4</text><text font-style="italic" transform="translate(1280.50,416.90) scale(1.17,1)">X</text><path d="M1217,451.0H1251.5" stroke="#a04070" stroke-width="2" stroke-dasharray="1.2 3.7" fill="none"/><text x="1253.00" y="465.40">4</text><text font-style="italic" transform="translate(1283.80,465.40) scale(0.95,1)">Y</text><path d="M1354.5,108.3H1388.5" stroke="#6cbc5c" stroke-width="2" stroke-dasharray="1.2 3.7" fill="none"/><text x="1392.40" y="125.90">5</text><text font-style="italic" transform="translate(1419.50,125.90) scale(1.17,1)">X</text><path d="M1354.5,157.0H1388.5" stroke="#1c1c44" stroke-width="2" stroke-dasharray="1.2 3.7" fill="none"/><text x="1392.40" y="174.40">5</text><text font-style="italic" transform="translate(1422.80,174.40) scale(0.95,1)">Y</text><path d="M1354.5,205.7H1388.5" stroke="#80288f" stroke-width="1.6" stroke-dasharray="1.2 3.7" fill="none"/><circle cx="1371.5" cy="205.7" r="2.7" fill="none" stroke="#80288f" stroke-width="2.6"/><text x="1392.40" y="222.90">6</text><text font-style="italic" transform="translate(1419.50,222.90) scale(1.17,1)">X</text><path d="M1354.7,254.4H1386.7" stroke="#141414" stroke-width="2" fill="none"/><path d="M1367.5,254.4h8M1371.5,250.4v8" stroke="#141414" stroke-width="1.8"/><text x="1392.40" y="271.40">6</text><text font-style="italic" transform="translate(1422.80,271.40) scale(0.95,1)">Y</text><path d="M1355.8,303.1H1387.9" stroke="#8e1f40" stroke-width="2.9" stroke-dasharray="12.1 5.6" fill="none"/><text x="1392.40" y="319.90">7</text><text font-style="italic" transform="translate(1419.50,319.90) scale(1.17,1)">X</text><path d="M1355.8,351.8H1387.9" stroke="#44aa4c" stroke-width="2.9" stroke-dasharray="12.1 5.6" fill="none"/><text x="1392.40" y="368.40">7</text><text font-style="italic" transform="translate(1422.80,368.40) scale(0.95,1)">Y</text>
</g>
</svg>
</body></html>
